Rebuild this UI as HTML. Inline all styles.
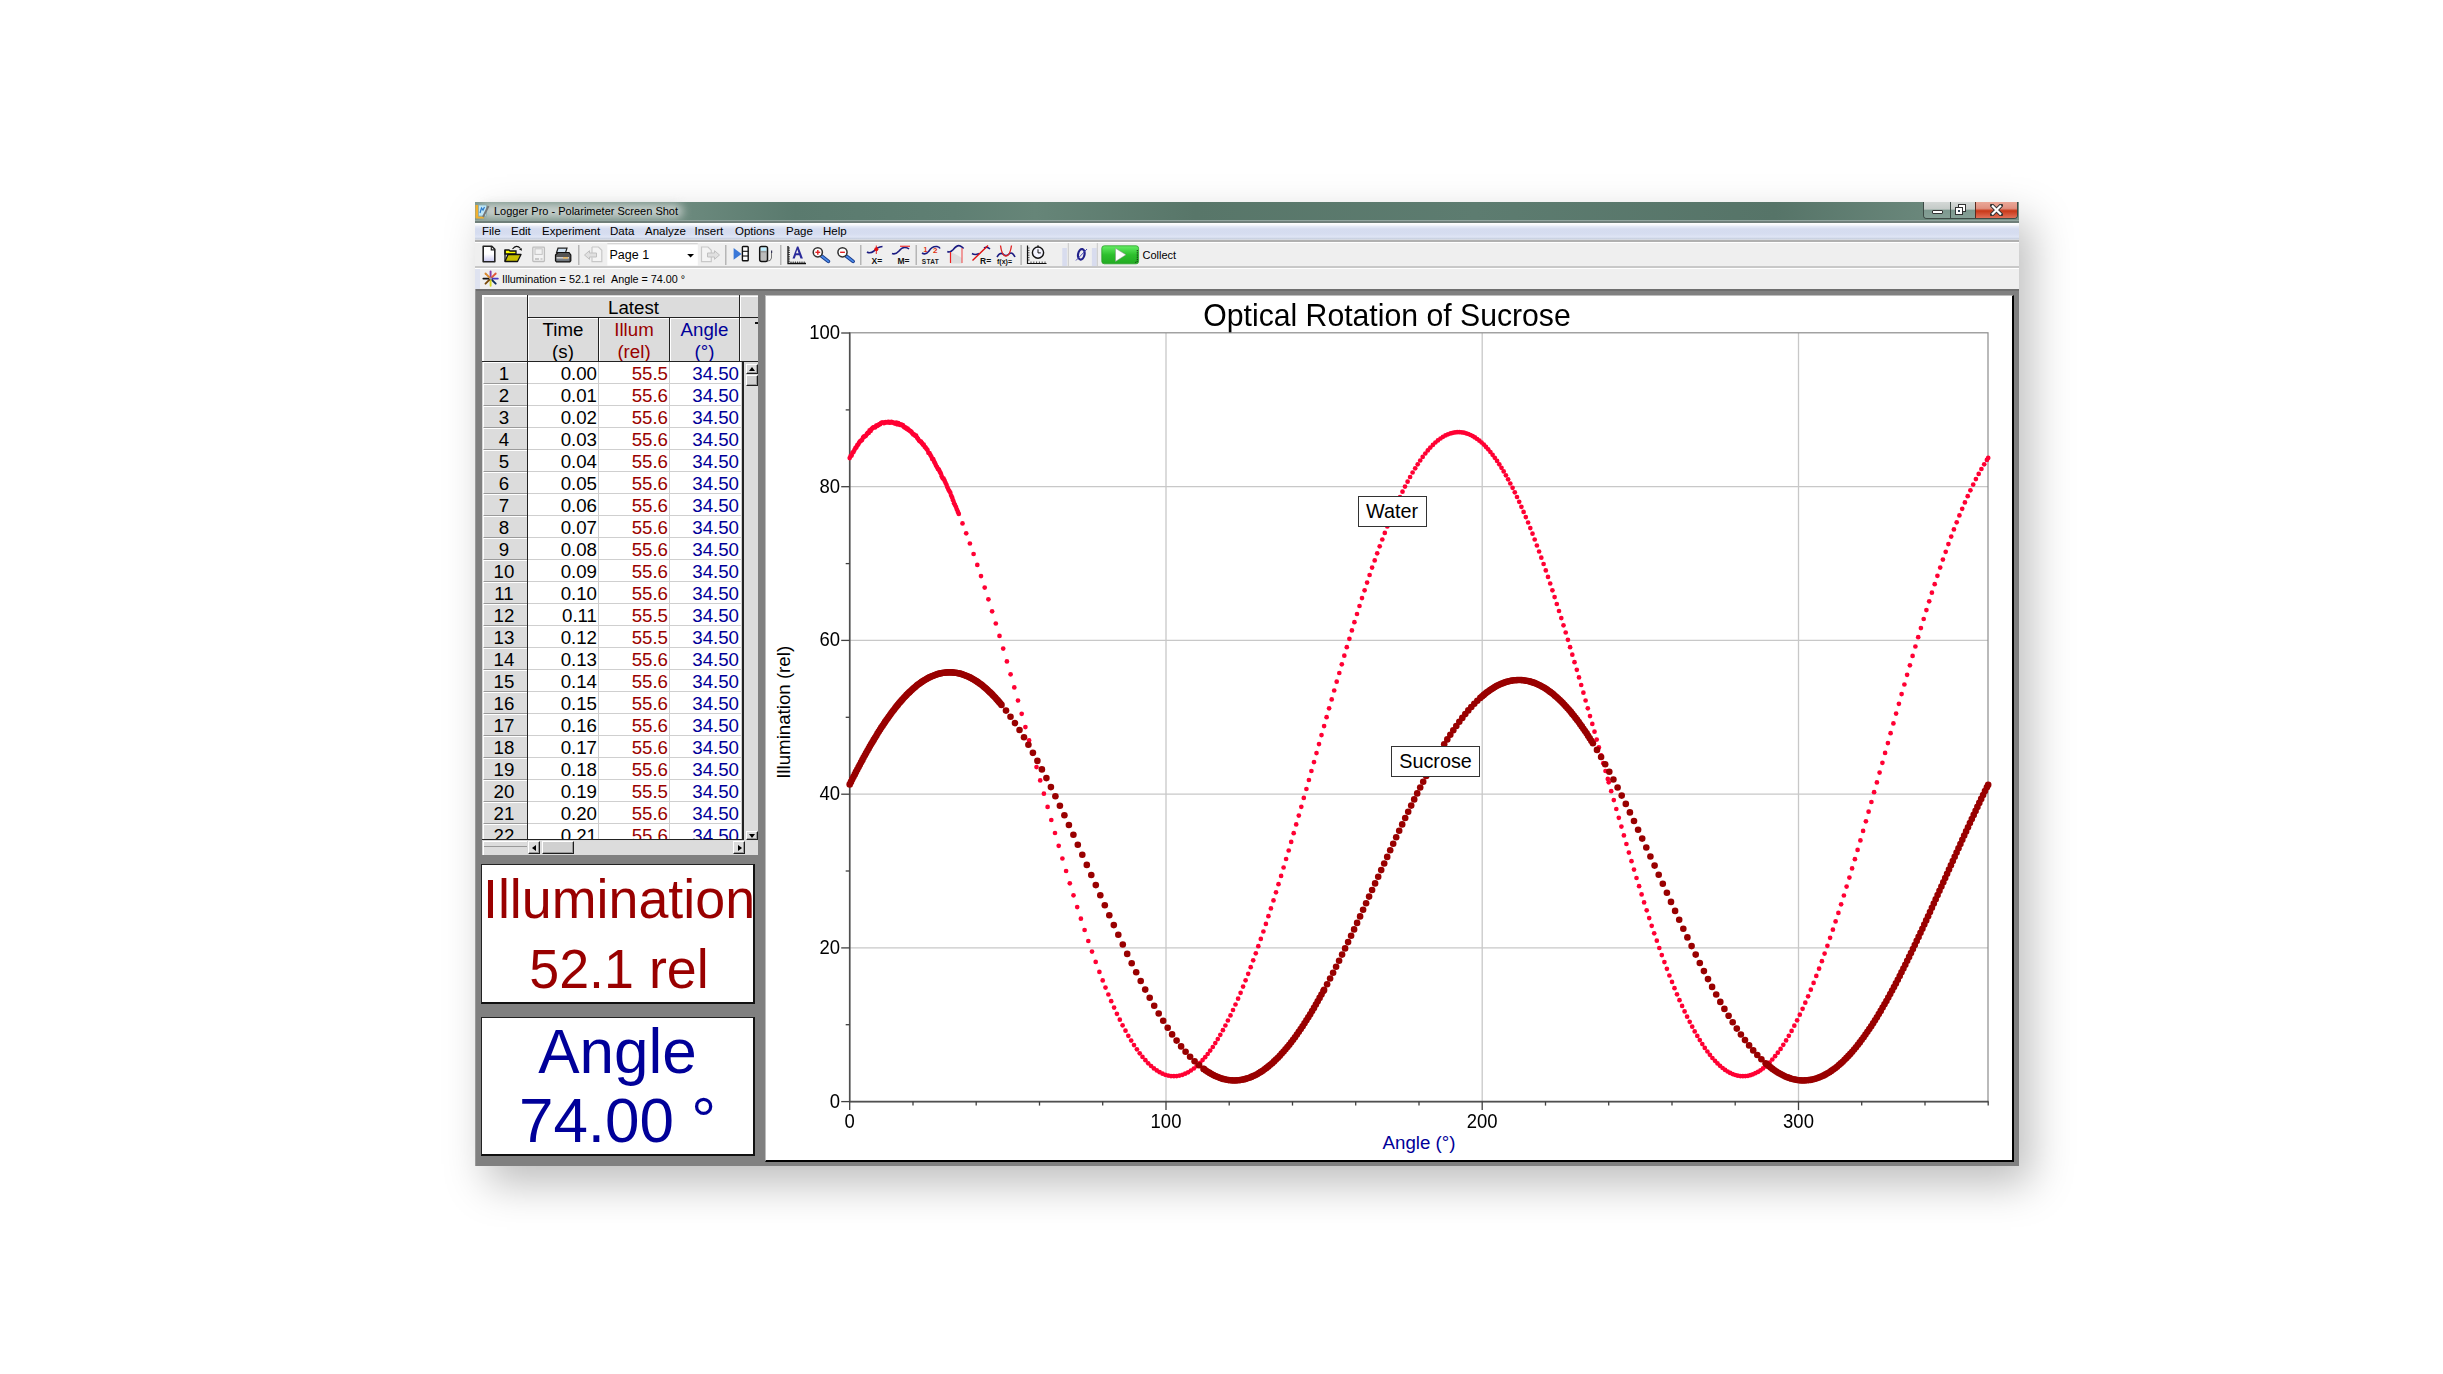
<!DOCTYPE html>
<html><head><meta charset="utf-8"><title>Logger Pro - Polarimeter Screen Shot</title>
<style>
html,body{margin:0;padding:0}
body{width:2443px;height:1374px;position:relative;overflow:hidden;background:#ffffff;font-family:"Liberation Sans",sans-serif;color:#000}
.a{position:absolute}
.t{position:absolute;white-space:nowrap;line-height:1}
.hc{position:absolute;background:#dcdcdc;border-top:1px solid #fff;border-left:1px solid #fff;box-sizing:border-box}
.btn{position:absolute;background:#dcdcdc;border:1px solid #1e1e1e;border-top-color:#fff;border-left-color:#fff;box-sizing:border-box;box-shadow:inset -1px -1px 0 #9a9a9a}
</style></head><body>

<div class="a" style="left:475px;top:202px;width:1544px;height:964px;box-shadow:12px 18px 40px 0 rgba(0,0,0,0.26)"></div>
<div class="a" style="left:475px;top:202px;width:1544px;height:964px;background:#808080"></div>
<div class="a" style="left:475px;top:202px;width:1544px;height:18px;background:linear-gradient(90deg,#7d968c 0px,#6a887c 220px,#5a7a6e 320px,#5f7f73 480px,#668578 560px,#587669 720px,#5d7c70 1000px,#567468 1300px,#6a877b 1450px,#7a948a 1544px)"></div>
<div class="a" style="left:480px;top:204px;width:203px;height:14px;background:#d8dcda;border-radius:7px;filter:blur(5px);opacity:0.85"></div>
<div class="a" style="left:475px;top:220px;width:1544px;height:1px;background:#93a6a0"></div>
<div class="a" style="left:475px;top:221px;width:1544px;height:2px;background:#6f7f7a"></div>
<div class="t" style="left:494px;top:206px;font-size:11px;color:#000">Logger Pro - Polarimeter Screen Shot</div>
<div class="a" style="left:1923px;top:202px;width:95px;height:17px;border:1px solid #3d4a45;border-top:none;border-radius:0 0 4px 4px;box-sizing:border-box;overflow:hidden"><div class="a" style="left:0;top:0;width:26px;height:16px;background:linear-gradient(#d4d8d6 0,#c4cac7 45%,#7d998f 50%,#86a096 100%)"></div><div class="a" style="left:26px;top:0;width:1px;height:16px;background:#3d4a45"></div><div class="a" style="left:27px;top:0;width:24px;height:16px;background:linear-gradient(#d4d8d6 0,#c4cac7 45%,#7d998f 50%,#86a096 100%)"></div><div class="a" style="left:51px;top:0;width:1px;height:16px;background:#5a2a20"></div><div class="a" style="left:52px;top:0;width:43px;height:16px;background:linear-gradient(#eaa898 0,#e09080 40%,#c83818 55%,#e07058 100%)"></div></div>
<div class="a" style="left:1931.5px;top:210px;width:11px;height:4px;background:#fff;border:1px solid #333;border-radius:1px;box-sizing:border-box"></div>
<div class="a" style="left:1958px;top:204px;width:8px;height:8px;background:#fff;border:1px solid #333;box-sizing:border-box"></div>
<div class="a" style="left:1955px;top:207px;width:8px;height:8px;background:#fff;border:1px solid #333;box-sizing:border-box"><div class="a" style="left:2px;top:2px;width:2px;height:2px;background:#345"></div></div>
<svg class="a" style="left:1990px;top:204px" width="13" height="12"><path d="M2,1.5 L11,10.5 M11,1.5 L2,10.5" stroke="#333" stroke-width="4" stroke-linecap="round"/><path d="M2,1.5 L11,10.5 M11,1.5 L2,10.5" stroke="#fff" stroke-width="2.2"/></svg>
<div class="a" style="left:475px;top:223px;width:1544px;height:18px;background:linear-gradient(#ffffff 0px,#f6f7fb 2px,#e4e9f6 3.5px,#d5dcef 6px,#d6ddf0 11px,#dfe5f5 14px,#c4ccdc 16px,#e8e8e8 17px)"></div>
<div class="a" style="left:475px;top:240px;width:1544px;height:2px;background:#b0b0b0"></div>
<div class="t" style="left:482px;top:226px;font-size:11.5px">File</div>
<div class="t" style="left:511px;top:226px;font-size:11.5px">Edit</div>
<div class="t" style="left:542px;top:226px;font-size:11.5px">Experiment</div>
<div class="t" style="left:610px;top:226px;font-size:11.5px">Data</div>
<div class="t" style="left:645px;top:226px;font-size:11.5px">Analyze</div>
<div class="t" style="left:694.5px;top:226px;font-size:11.5px">Insert</div>
<div class="t" style="left:735px;top:226px;font-size:11.5px">Options</div>
<div class="t" style="left:786px;top:226px;font-size:11.5px">Page</div>
<div class="t" style="left:823px;top:226px;font-size:11.5px">Help</div>
<div class="a" style="left:475px;top:242px;width:1544px;height:24px;background:#efefef;border-top:1px solid #fff;box-sizing:border-box"></div>
<div class="a" style="left:475px;top:266px;width:1544px;height:2px;background:#c8c8c8"></div>
<div class="a" style="left:475px;top:268px;width:1544px;height:21px;background:#efefef;border-top:1px solid #fff;box-sizing:border-box"></div>
<div class="a" style="left:475px;top:269px;width:5px;height:20px;background:#dfe3f0"></div>
<div class="t" style="left:502px;top:273.5px;font-size:10.8px">Illumination = 52.1 rel &nbsp;Angle = 74.00 °</div>
<svg class="a" style="left:0;top:0;overflow:visible" width="2443" height="300" viewBox="0 0 2443 300"><defs>
<linearGradient id="docg" x1="0" y1="0" x2="0" y2="1"><stop offset="0" stop-color="#fff"/><stop offset="0.5" stop-color="#fff"/><stop offset="1" stop-color="#c8c8f0"/></linearGradient>
<linearGradient id="grn" x1="0" y1="0" x2="0" y2="1"><stop offset="0" stop-color="#66ee66"/><stop offset="0.5" stop-color="#2ec02e"/><stop offset="1" stop-color="#22aa22"/></linearGradient>
<linearGradient id="lens" x1="0" y1="0" x2="0" y2="1"><stop offset="0" stop-color="#3a7adf"/><stop offset="1" stop-color="#1a4aa0"/></linearGradient>
</defs><rect x="475.5" y="205" width="3" height="13" fill="#f0b030"/><rect x="476" y="216.5" width="8" height="2" fill="#f0b030"/><rect x="478.5" y="205" width="8" height="11" fill="#bfe6f6" stroke="#8aa" stroke-width="0.8"/><polyline points="480,213 481.5,208 483,210 484.5,207" fill="none" stroke="#2a78c8" stroke-width="1.2"/><line x1="488.5" y1="206" x2="483" y2="217" stroke="#777" stroke-width="2"/><path d="M483.2,246.3 h8.6 l3,3 v12.4 h-11.6 z" fill="url(#docg)" stroke="#222" stroke-width="1.6" stroke-linejoin="round"/><path d="M491.3,246.5 v3.4 h3.4" fill="none" stroke="#222" stroke-width="1.2"/><path d="M505,250 h4 l1,1 h6 v3 h-11 z" fill="#ffff00" stroke="#111" stroke-width="1.3"/><path d="M505,261.5 l3,-7 h13 l-3.5,7 z" fill="#c8c000" stroke="#111" stroke-width="1.3" stroke-linejoin="round"/><path d="M505,250 v11.5" stroke="#111" stroke-width="1.3"/><path d="M512.5,249 q4,-5 8,-0.5" fill="none" stroke="#111" stroke-width="1.1"/><path d="M519,249.5 l2.5,-1.5 l0.5,2.8 z" fill="#111"/><rect x="532.8" y="247.2" width="11.6" height="14.3" rx="0.8" fill="#f2f2f2" stroke="#bdbdbd" stroke-width="1.3"/><rect x="535" y="248.8" width="7.2" height="5.6" fill="#f2f2f2" stroke="#c4c4c4" stroke-width="1"/><rect x="535" y="258" width="4" height="2" fill="#c8c8c8"/><rect x="540.5" y="258" width="2" height="2" fill="#d0d0d0"/><path d="M558,248.2 h9 l-1.5,4.5 h-9 z" fill="#cfe0f0" stroke="#222" stroke-width="1.2"/><path d="M555.5,255 l2.5,-2.5 h11 l1.8,2.5 v5.8 l-1,1 h-13.3 l-1,-1 z" fill="#555" stroke="#111" stroke-width="1.2"/><rect x="556.5" y="257.3" width="12.5" height="1.2" fill="#fff"/><rect x="563" y="257.3" width="5" height="1.2" fill="#f0b040"/><rect x="556.5" y="259.5" width="12.5" height="0.9" fill="#9ab"/><line x1="578.8" y1="245" x2="578.8" y2="265" stroke="#a8a8a8" stroke-width="1.2"/><line x1="725.8" y1="245" x2="725.8" y2="265" stroke="#a8a8a8" stroke-width="1.2"/><line x1="780.8" y1="245" x2="780.8" y2="265" stroke="#a8a8a8" stroke-width="1.2"/><line x1="860.8" y1="245" x2="860.8" y2="265" stroke="#a8a8a8" stroke-width="1.2"/><line x1="916.2" y1="245" x2="916.2" y2="265" stroke="#a8a8a8" stroke-width="1.2"/><line x1="1021.1" y1="245" x2="1021.1" y2="265" stroke="#a8a8a8" stroke-width="1.2"/><path d="M592,247 h6.5 l3.3,3.3 v11.3 h-9.8 v-4 M592,254 v-7" fill="#f4f4f4" stroke="#c8c8c8" stroke-width="1.2"/><path d="M584.5,255 l5,-4.3 v2.3 h7 v4 h-7 v2.3 z" fill="#e0e0e0" stroke="#c0c0c0" stroke-width="1"/><rect x="607.3" y="243.5" width="90.5" height="22" fill="#fff"/><line x1="607.3" y1="243.8" x2="697.8" y2="243.8" stroke="#c8c8c8" stroke-width="1"/><path d="M687.2,254 h6.8 l-3.4,3.6 z" fill="#000"/><path d="M701.5,247 h6.5 l3.3,3.3 v11.3 h-9.8 z" fill="#f4f4f4" stroke="#c8c8c8" stroke-width="1.2"/><path d="M719.5,255 l-5,-4.3 v2.3 h-7 v4 h7 v2.3 z" fill="#e0e0e0" stroke="#c0c0c0" stroke-width="1"/><path d="M733.6,248 l8,5.9 l-8,5.9 z" fill="#3a78d8"/><rect x="742.4" y="246.5" width="5.8" height="14.2" rx="0.8" fill="#fff" stroke="#111" stroke-width="1.4"/><line x1="742.4" y1="251.3" x2="748.2" y2="251.3" stroke="#111" stroke-width="1.1"/><line x1="742.4" y1="256" x2="748.2" y2="256" stroke="#111" stroke-width="1.1"/><rect x="759.6" y="246.4" width="8" height="15.2" rx="2" fill="#999" stroke="#111" stroke-width="1.3"/><rect x="760.8" y="247.6" width="5.6" height="3.2" fill="#bfefff"/><rect x="761" y="252.5" width="5" height="7.5" fill="#bbb"/><path d="M767,261 q4,0.5 4.5,-3 v-5" fill="none" stroke="#555" stroke-width="0.8"/><rect x="771" y="250.5" width="1.2" height="2.5" fill="#335"/><path d="M788,246 v17.5 h18" fill="none" stroke="#111" stroke-width="1.3"/><line x1="788" y1="248.0" x2="790" y2="248.0" stroke="#111" stroke-width="0.8"/><line x1="791.0" y1="261.5" x2="791.0" y2="263.5" stroke="#111" stroke-width="0.8"/><line x1="788" y1="250.2" x2="790" y2="250.2" stroke="#111" stroke-width="0.8"/><line x1="793.2" y1="261.5" x2="793.2" y2="263.5" stroke="#111" stroke-width="0.8"/><line x1="788" y1="252.4" x2="790" y2="252.4" stroke="#111" stroke-width="0.8"/><line x1="795.4" y1="261.5" x2="795.4" y2="263.5" stroke="#111" stroke-width="0.8"/><line x1="788" y1="254.6" x2="790" y2="254.6" stroke="#111" stroke-width="0.8"/><line x1="797.6" y1="261.5" x2="797.6" y2="263.5" stroke="#111" stroke-width="0.8"/><line x1="788" y1="256.8" x2="790" y2="256.8" stroke="#111" stroke-width="0.8"/><line x1="799.8" y1="261.5" x2="799.8" y2="263.5" stroke="#111" stroke-width="0.8"/><line x1="788" y1="259.0" x2="790" y2="259.0" stroke="#111" stroke-width="0.8"/><line x1="802.0" y1="261.5" x2="802.0" y2="263.5" stroke="#111" stroke-width="0.8"/><line x1="788" y1="261.2" x2="790" y2="261.2" stroke="#111" stroke-width="0.8"/><line x1="804.2" y1="261.5" x2="804.2" y2="263.5" stroke="#111" stroke-width="0.8"/><path d="M792.5,258.5 l4.5,-12 h1.4 l4.5,12 h-2.4 l-1.2,-3.2 h-3.4 l-1.1,3.2 z M796,253.3 h2.6 l-1.3,-3.8 z" fill="#2a2a9a" fill-rule="evenodd"/><line x1="821.5" y1="256" x2="828.4" y2="261.4" stroke="#1a3a8a" stroke-width="3.6" stroke-linecap="round"/><line x1="821.5" y1="256" x2="828.4" y2="261.4" stroke="#4a8ae8" stroke-width="1.8" stroke-linecap="round"/><circle cx="817.8" cy="252.3" r="4.6" fill="#fff" stroke="#333" stroke-width="1.5"/><line x1="815.4" y1="252.3" x2="820.2" y2="252.3" stroke="#e02020" stroke-width="1.4"/><line x1="817.8" y1="249.9" x2="817.8" y2="254.7" stroke="#e02020" stroke-width="1.4"/><line x1="846.2" y1="256" x2="853.1" y2="261.4" stroke="#1a3a8a" stroke-width="3.6" stroke-linecap="round"/><line x1="846.2" y1="256" x2="853.1" y2="261.4" stroke="#4a8ae8" stroke-width="1.8" stroke-linecap="round"/><circle cx="842.5" cy="252.3" r="4.6" fill="#fff" stroke="#333" stroke-width="1.5"/><line x1="840.1" y1="252.3" x2="844.9" y2="252.3" stroke="#e02020" stroke-width="1.4"/><path d="M867,252 q3,2 7,-1 q3,-4 8.5,-4.5" fill="none" stroke="#1a1a80" stroke-width="1.6"/><circle cx="876.3" cy="249.2" r="2" fill="#e01010"/><line x1="876.3" y1="245.5" x2="876.3" y2="254" stroke="#e01010" stroke-width="0.9"/><text x="871.5" y="263.5" font-family="Liberation Sans" font-size="8.5" font-weight="bold" fill="#111">X=</text><path d="M892,253.5 q3.5,1.5 7,-2.5 q3,-4 6,-3.5 q2.5,0 4,1.5" fill="none" stroke="#1a1a80" stroke-width="1.6"/><line x1="900" y1="246.3" x2="910" y2="246.3" stroke="#ee4444" stroke-width="1.3"/><text x="897.5" y="263.5" font-family="Liberation Sans" font-size="8.5" font-weight="bold" fill="#111">M=</text><path d="M922,253 q3.5,2.5 7,-2 q3,-5 8,-4.5 q2.5,0.5 3,2" fill="none" stroke="#1a1a80" stroke-width="1.6"/><text x="923.5" y="252" font-family="Liberation Sans" font-size="7" font-weight="bold" fill="#e03010">1</text><text x="933" y="253" font-family="Liberation Sans" font-size="8" font-weight="bold" fill="#e03010">2</text><text x="921.8" y="263.5" font-family="Liberation Sans" font-size="6.5" font-weight="bold" fill="#222" textLength="17">STAT</text><path d="M950.5,252 q5,2 11.5,6 v5.5 h-11.5 z" fill="#ddd"/><path d="M947.3,251.5 q3,1.5 6,-2 q4,-5 7,-3.5 q2,1 3.3,2.5" fill="none" stroke="#1a1a80" stroke-width="1.6"/><line x1="950.5" y1="252" x2="950.5" y2="263" stroke="#ee2020" stroke-width="1.2"/><line x1="962" y1="248" x2="962" y2="263" stroke="#ee6060" stroke-width="1.2"/><path d="M972,253.5 q3,2 7,0 M984,248 q3,-2 6,1" fill="none" stroke="#1a1a80" stroke-width="1.6"/><line x1="972.5" y1="260.5" x2="988" y2="245.5" stroke="#e01010" stroke-width="1.4"/><text x="980" y="264" font-family="Liberation Sans" font-size="8.5" font-weight="bold" fill="#111">R=</text><path d="M997,257 q3,-5 6,-3 q3,3 6,0 q3,-3 6,3" fill="none" stroke="#1a1a80" stroke-width="1.6"/><path d="M1000.5,245.5 q1.5,11 5.5,10.5 q4,0 5.5,-10.5" fill="none" stroke="#e02020" stroke-width="1.3"/><text x="997" y="264" font-family="Liberation Sans" font-size="7" font-weight="bold" fill="#111">f(x)=</text><path d="M1027.5,245.5 v18 h19" fill="none" stroke="#111" stroke-width="1.2"/><line x1="1027.5" y1="248.0" x2="1029.5" y2="248.0" stroke="#111" stroke-width="0.7"/><line x1="1031.0" y1="261.5" x2="1031.0" y2="263.5" stroke="#111" stroke-width="0.7"/><line x1="1027.5" y1="250.4" x2="1029.5" y2="250.4" stroke="#111" stroke-width="0.7"/><line x1="1033.8" y1="261.5" x2="1033.8" y2="263.5" stroke="#111" stroke-width="0.7"/><line x1="1027.5" y1="252.8" x2="1029.5" y2="252.8" stroke="#111" stroke-width="0.7"/><line x1="1036.6" y1="261.5" x2="1036.6" y2="263.5" stroke="#111" stroke-width="0.7"/><line x1="1027.5" y1="255.2" x2="1029.5" y2="255.2" stroke="#111" stroke-width="0.7"/><line x1="1039.4" y1="261.5" x2="1039.4" y2="263.5" stroke="#111" stroke-width="0.7"/><line x1="1027.5" y1="257.6" x2="1029.5" y2="257.6" stroke="#111" stroke-width="0.7"/><line x1="1042.2" y1="261.5" x2="1042.2" y2="263.5" stroke="#111" stroke-width="0.7"/><line x1="1027.5" y1="260.0" x2="1029.5" y2="260.0" stroke="#111" stroke-width="0.7"/><line x1="1045.0" y1="261.5" x2="1045.0" y2="263.5" stroke="#111" stroke-width="0.7"/><circle cx="1038" cy="252.6" r="5.6" fill="#f4f4ff" stroke="#111" stroke-width="1.4"/><path d="M1038,249.3 v3.6 h2.8" fill="none" stroke="#111" stroke-width="1"/><line x1="1038" y1="245.3" x2="1038" y2="247" stroke="#111" stroke-width="1.2"/><rect x="1062.3" y="248" width="4.6" height="18" fill="#d8dcee"/><line x1="1068.3" y1="243" x2="1068.3" y2="266" stroke="#c8c8c8" stroke-width="1"/><rect x="1091.9" y="248" width="4.8" height="18" fill="#d8dcee"/><line x1="1097.3" y1="243" x2="1097.3" y2="266" stroke="#c8c8c8" stroke-width="1"/><ellipse cx="1081.3" cy="254.3" rx="3.2" ry="5.3" transform="rotate(12 1081.3 254.3)" fill="none" stroke="#22228a" stroke-width="2.2"/><line x1="1076" y1="260.5" x2="1087" y2="249" stroke="#3a3ab0" stroke-width="0.9"/><rect x="1101.8" y="245.8" width="36.8" height="18" rx="2.5" fill="url(#grn)" stroke="#28a028" stroke-width="0.8"/><path d="M1115.5,248.3 l10.5,6.5 l-10.5,6.6 z" fill="#fff" stroke="#888" stroke-width="0.5"/><path d="M1137.3,250 v11.5 l-2,1" fill="none" stroke="#111" stroke-width="0.9" stroke-dasharray="1,0.8"/><line x1="490.6" y1="278.6" x2="490.60" y2="271.40" stroke="#8a3aa8" stroke-width="1.9" stroke-linecap="round"/><line x1="490.6" y1="278.6" x2="495.69" y2="273.51" stroke="#e25a3a" stroke-width="1.9" stroke-linecap="round"/><line x1="490.6" y1="278.6" x2="497.80" y2="278.60" stroke="#4a3ac0" stroke-width="1.9" stroke-linecap="round"/><line x1="490.6" y1="278.6" x2="495.69" y2="283.69" stroke="#0a2a5a" stroke-width="1.9" stroke-linecap="round"/><line x1="490.6" y1="278.6" x2="490.60" y2="285.80" stroke="#d8d820" stroke-width="1.9" stroke-linecap="round"/><line x1="490.6" y1="278.6" x2="485.51" y2="283.69" stroke="#7a4a08" stroke-width="1.9" stroke-linecap="round"/><line x1="490.6" y1="278.6" x2="483.40" y2="278.60" stroke="#111111" stroke-width="1.9" stroke-linecap="round"/><line x1="490.6" y1="278.6" x2="485.51" y2="273.51" stroke="#d88a30" stroke-width="1.9" stroke-linecap="round"/><circle cx="490.6" cy="278.6" r="1.2" fill="#9ac"/></svg>
<div class="t" style="left:609.5px;top:249px;font-size:12.5px">Page 1</div>
<div class="t" style="left:1142.5px;top:250px;font-size:11px">Collect</div>
<div class="a" style="left:475px;top:289px;width:1544px;height:877px;background:#808080"></div>
<div class="a" style="left:475px;top:289px;width:1544px;height:2px;background:#6e6e6e"></div>
<div class="a" style="left:475px;top:289px;width:1px;height:877px;background:#9a9a9a"></div>
<div class="a" style="left:482px;top:295px;width:276px;height:560px;background:#d8d8d8"></div>
<div class="a" style="left:527px;top:362px;width:215px;height:477px;background:#fff"></div>
<div class="hc" style="left:482px;top:295px;width:45px;height:66px;border-width:2px 0 0 2px"></div>
<div class="hc" style="left:528px;top:296px;width:211px;height:21px"></div>
<div class="t" style="left:528px;top:298.5px;width:211px;text-align:center;font-size:18.7px">Latest</div>
<div class="hc" style="left:528px;top:318px;width:70px;height:43px"></div>
<div class="t" style="left:528px;top:318.5px;width:70px;text-align:center;font-size:18.7px;line-height:22px;color:#000">Time<br>(s)</div>
<div class="hc" style="left:599px;top:318px;width:70px;height:43px"></div>
<div class="t" style="left:599px;top:318.5px;width:70px;text-align:center;font-size:18.7px;line-height:22px;color:#990000">Illum<br>(rel)</div>
<div class="hc" style="left:670px;top:318px;width:69px;height:43px"></div>
<div class="t" style="left:670px;top:318.5px;width:69px;text-align:center;font-size:18.7px;line-height:22px;color:#000099">Angle<br>(°)</div>
<div class="hc" style="left:740px;top:296px;width:18px;height:65px"></div>
<div class="a" style="left:755px;top:322px;width:3px;height:1.5px;background:#111"></div>
<div class="a" style="left:526.5px;top:295px;width:1.5px;height:67px;background:#222"></div>
<div class="a" style="left:527px;top:317px;width:231px;height:1.3px;background:#222"></div>
<div class="a" style="left:598px;top:318px;width:1.3px;height:44px;background:#222"></div>
<div class="a" style="left:669px;top:318px;width:1.3px;height:44px;background:#222"></div>
<div class="a" style="left:739.2px;top:295px;width:1.3px;height:67px;background:#222"></div>
<div class="a" style="left:482px;top:360.6px;width:276px;height:1.8px;background:#222"></div>
<div class="a" style="left:483px;top:362px;width:44px;height:22px;background:#dcdcdc;border-top:1px solid #fff;border-left:1px solid #fff;border-bottom:1px solid #9a9a9a;box-sizing:border-box"></div>
<div class="t" style="left:482px;top:365px;width:44px;text-align:center;font-size:18.7px">1</div>
<div class="a" style="left:527px;top:383px;width:215px;height:1px;background:#cfcfcf"></div>
<div class="t" style="left:527px;top:365.0px;width:70px;text-align:right;font-size:18.7px">0.00</div>
<div class="t" style="left:598px;top:365.0px;width:70px;text-align:right;font-size:18.7px;color:#990000">55.5</div>
<div class="t" style="left:669px;top:365.0px;width:70px;text-align:right;font-size:18.7px;color:#000099">34.50</div>
<div class="a" style="left:483px;top:384px;width:44px;height:22px;background:#dcdcdc;border-top:1px solid #fff;border-left:1px solid #fff;border-bottom:1px solid #9a9a9a;box-sizing:border-box"></div>
<div class="t" style="left:482px;top:387px;width:44px;text-align:center;font-size:18.7px">2</div>
<div class="a" style="left:527px;top:405px;width:215px;height:1px;background:#cfcfcf"></div>
<div class="t" style="left:527px;top:387.0px;width:70px;text-align:right;font-size:18.7px">0.01</div>
<div class="t" style="left:598px;top:387.0px;width:70px;text-align:right;font-size:18.7px;color:#990000">55.6</div>
<div class="t" style="left:669px;top:387.0px;width:70px;text-align:right;font-size:18.7px;color:#000099">34.50</div>
<div class="a" style="left:483px;top:406px;width:44px;height:22px;background:#dcdcdc;border-top:1px solid #fff;border-left:1px solid #fff;border-bottom:1px solid #9a9a9a;box-sizing:border-box"></div>
<div class="t" style="left:482px;top:409px;width:44px;text-align:center;font-size:18.7px">3</div>
<div class="a" style="left:527px;top:427px;width:215px;height:1px;background:#cfcfcf"></div>
<div class="t" style="left:527px;top:409.0px;width:70px;text-align:right;font-size:18.7px">0.02</div>
<div class="t" style="left:598px;top:409.0px;width:70px;text-align:right;font-size:18.7px;color:#990000">55.6</div>
<div class="t" style="left:669px;top:409.0px;width:70px;text-align:right;font-size:18.7px;color:#000099">34.50</div>
<div class="a" style="left:483px;top:428px;width:44px;height:22px;background:#dcdcdc;border-top:1px solid #fff;border-left:1px solid #fff;border-bottom:1px solid #9a9a9a;box-sizing:border-box"></div>
<div class="t" style="left:482px;top:431px;width:44px;text-align:center;font-size:18.7px">4</div>
<div class="a" style="left:527px;top:449px;width:215px;height:1px;background:#cfcfcf"></div>
<div class="t" style="left:527px;top:431.0px;width:70px;text-align:right;font-size:18.7px">0.03</div>
<div class="t" style="left:598px;top:431.0px;width:70px;text-align:right;font-size:18.7px;color:#990000">55.6</div>
<div class="t" style="left:669px;top:431.0px;width:70px;text-align:right;font-size:18.7px;color:#000099">34.50</div>
<div class="a" style="left:483px;top:450px;width:44px;height:22px;background:#dcdcdc;border-top:1px solid #fff;border-left:1px solid #fff;border-bottom:1px solid #9a9a9a;box-sizing:border-box"></div>
<div class="t" style="left:482px;top:453px;width:44px;text-align:center;font-size:18.7px">5</div>
<div class="a" style="left:527px;top:471px;width:215px;height:1px;background:#cfcfcf"></div>
<div class="t" style="left:527px;top:453.0px;width:70px;text-align:right;font-size:18.7px">0.04</div>
<div class="t" style="left:598px;top:453.0px;width:70px;text-align:right;font-size:18.7px;color:#990000">55.6</div>
<div class="t" style="left:669px;top:453.0px;width:70px;text-align:right;font-size:18.7px;color:#000099">34.50</div>
<div class="a" style="left:483px;top:472px;width:44px;height:22px;background:#dcdcdc;border-top:1px solid #fff;border-left:1px solid #fff;border-bottom:1px solid #9a9a9a;box-sizing:border-box"></div>
<div class="t" style="left:482px;top:475px;width:44px;text-align:center;font-size:18.7px">6</div>
<div class="a" style="left:527px;top:493px;width:215px;height:1px;background:#cfcfcf"></div>
<div class="t" style="left:527px;top:475.0px;width:70px;text-align:right;font-size:18.7px">0.05</div>
<div class="t" style="left:598px;top:475.0px;width:70px;text-align:right;font-size:18.7px;color:#990000">55.6</div>
<div class="t" style="left:669px;top:475.0px;width:70px;text-align:right;font-size:18.7px;color:#000099">34.50</div>
<div class="a" style="left:483px;top:494px;width:44px;height:22px;background:#dcdcdc;border-top:1px solid #fff;border-left:1px solid #fff;border-bottom:1px solid #9a9a9a;box-sizing:border-box"></div>
<div class="t" style="left:482px;top:497px;width:44px;text-align:center;font-size:18.7px">7</div>
<div class="a" style="left:527px;top:515px;width:215px;height:1px;background:#cfcfcf"></div>
<div class="t" style="left:527px;top:497.0px;width:70px;text-align:right;font-size:18.7px">0.06</div>
<div class="t" style="left:598px;top:497.0px;width:70px;text-align:right;font-size:18.7px;color:#990000">55.6</div>
<div class="t" style="left:669px;top:497.0px;width:70px;text-align:right;font-size:18.7px;color:#000099">34.50</div>
<div class="a" style="left:483px;top:516px;width:44px;height:22px;background:#dcdcdc;border-top:1px solid #fff;border-left:1px solid #fff;border-bottom:1px solid #9a9a9a;box-sizing:border-box"></div>
<div class="t" style="left:482px;top:519px;width:44px;text-align:center;font-size:18.7px">8</div>
<div class="a" style="left:527px;top:537px;width:215px;height:1px;background:#cfcfcf"></div>
<div class="t" style="left:527px;top:519.0px;width:70px;text-align:right;font-size:18.7px">0.07</div>
<div class="t" style="left:598px;top:519.0px;width:70px;text-align:right;font-size:18.7px;color:#990000">55.6</div>
<div class="t" style="left:669px;top:519.0px;width:70px;text-align:right;font-size:18.7px;color:#000099">34.50</div>
<div class="a" style="left:483px;top:538px;width:44px;height:22px;background:#dcdcdc;border-top:1px solid #fff;border-left:1px solid #fff;border-bottom:1px solid #9a9a9a;box-sizing:border-box"></div>
<div class="t" style="left:482px;top:541px;width:44px;text-align:center;font-size:18.7px">9</div>
<div class="a" style="left:527px;top:559px;width:215px;height:1px;background:#cfcfcf"></div>
<div class="t" style="left:527px;top:541.0px;width:70px;text-align:right;font-size:18.7px">0.08</div>
<div class="t" style="left:598px;top:541.0px;width:70px;text-align:right;font-size:18.7px;color:#990000">55.6</div>
<div class="t" style="left:669px;top:541.0px;width:70px;text-align:right;font-size:18.7px;color:#000099">34.50</div>
<div class="a" style="left:483px;top:560px;width:44px;height:22px;background:#dcdcdc;border-top:1px solid #fff;border-left:1px solid #fff;border-bottom:1px solid #9a9a9a;box-sizing:border-box"></div>
<div class="t" style="left:482px;top:563px;width:44px;text-align:center;font-size:18.7px">10</div>
<div class="a" style="left:527px;top:581px;width:215px;height:1px;background:#cfcfcf"></div>
<div class="t" style="left:527px;top:563.0px;width:70px;text-align:right;font-size:18.7px">0.09</div>
<div class="t" style="left:598px;top:563.0px;width:70px;text-align:right;font-size:18.7px;color:#990000">55.6</div>
<div class="t" style="left:669px;top:563.0px;width:70px;text-align:right;font-size:18.7px;color:#000099">34.50</div>
<div class="a" style="left:483px;top:582px;width:44px;height:22px;background:#dcdcdc;border-top:1px solid #fff;border-left:1px solid #fff;border-bottom:1px solid #9a9a9a;box-sizing:border-box"></div>
<div class="t" style="left:482px;top:585px;width:44px;text-align:center;font-size:18.7px">11</div>
<div class="a" style="left:527px;top:603px;width:215px;height:1px;background:#cfcfcf"></div>
<div class="t" style="left:527px;top:585.0px;width:70px;text-align:right;font-size:18.7px">0.10</div>
<div class="t" style="left:598px;top:585.0px;width:70px;text-align:right;font-size:18.7px;color:#990000">55.6</div>
<div class="t" style="left:669px;top:585.0px;width:70px;text-align:right;font-size:18.7px;color:#000099">34.50</div>
<div class="a" style="left:483px;top:604px;width:44px;height:22px;background:#dcdcdc;border-top:1px solid #fff;border-left:1px solid #fff;border-bottom:1px solid #9a9a9a;box-sizing:border-box"></div>
<div class="t" style="left:482px;top:607px;width:44px;text-align:center;font-size:18.7px">12</div>
<div class="a" style="left:527px;top:625px;width:215px;height:1px;background:#cfcfcf"></div>
<div class="t" style="left:527px;top:607.0px;width:70px;text-align:right;font-size:18.7px">0.11</div>
<div class="t" style="left:598px;top:607.0px;width:70px;text-align:right;font-size:18.7px;color:#990000">55.5</div>
<div class="t" style="left:669px;top:607.0px;width:70px;text-align:right;font-size:18.7px;color:#000099">34.50</div>
<div class="a" style="left:483px;top:626px;width:44px;height:22px;background:#dcdcdc;border-top:1px solid #fff;border-left:1px solid #fff;border-bottom:1px solid #9a9a9a;box-sizing:border-box"></div>
<div class="t" style="left:482px;top:629px;width:44px;text-align:center;font-size:18.7px">13</div>
<div class="a" style="left:527px;top:647px;width:215px;height:1px;background:#cfcfcf"></div>
<div class="t" style="left:527px;top:629.0px;width:70px;text-align:right;font-size:18.7px">0.12</div>
<div class="t" style="left:598px;top:629.0px;width:70px;text-align:right;font-size:18.7px;color:#990000">55.5</div>
<div class="t" style="left:669px;top:629.0px;width:70px;text-align:right;font-size:18.7px;color:#000099">34.50</div>
<div class="a" style="left:483px;top:648px;width:44px;height:22px;background:#dcdcdc;border-top:1px solid #fff;border-left:1px solid #fff;border-bottom:1px solid #9a9a9a;box-sizing:border-box"></div>
<div class="t" style="left:482px;top:651px;width:44px;text-align:center;font-size:18.7px">14</div>
<div class="a" style="left:527px;top:669px;width:215px;height:1px;background:#cfcfcf"></div>
<div class="t" style="left:527px;top:651.0px;width:70px;text-align:right;font-size:18.7px">0.13</div>
<div class="t" style="left:598px;top:651.0px;width:70px;text-align:right;font-size:18.7px;color:#990000">55.6</div>
<div class="t" style="left:669px;top:651.0px;width:70px;text-align:right;font-size:18.7px;color:#000099">34.50</div>
<div class="a" style="left:483px;top:670px;width:44px;height:22px;background:#dcdcdc;border-top:1px solid #fff;border-left:1px solid #fff;border-bottom:1px solid #9a9a9a;box-sizing:border-box"></div>
<div class="t" style="left:482px;top:673px;width:44px;text-align:center;font-size:18.7px">15</div>
<div class="a" style="left:527px;top:691px;width:215px;height:1px;background:#cfcfcf"></div>
<div class="t" style="left:527px;top:673.0px;width:70px;text-align:right;font-size:18.7px">0.14</div>
<div class="t" style="left:598px;top:673.0px;width:70px;text-align:right;font-size:18.7px;color:#990000">55.6</div>
<div class="t" style="left:669px;top:673.0px;width:70px;text-align:right;font-size:18.7px;color:#000099">34.50</div>
<div class="a" style="left:483px;top:692px;width:44px;height:22px;background:#dcdcdc;border-top:1px solid #fff;border-left:1px solid #fff;border-bottom:1px solid #9a9a9a;box-sizing:border-box"></div>
<div class="t" style="left:482px;top:695px;width:44px;text-align:center;font-size:18.7px">16</div>
<div class="a" style="left:527px;top:713px;width:215px;height:1px;background:#cfcfcf"></div>
<div class="t" style="left:527px;top:695.0px;width:70px;text-align:right;font-size:18.7px">0.15</div>
<div class="t" style="left:598px;top:695.0px;width:70px;text-align:right;font-size:18.7px;color:#990000">55.6</div>
<div class="t" style="left:669px;top:695.0px;width:70px;text-align:right;font-size:18.7px;color:#000099">34.50</div>
<div class="a" style="left:483px;top:714px;width:44px;height:22px;background:#dcdcdc;border-top:1px solid #fff;border-left:1px solid #fff;border-bottom:1px solid #9a9a9a;box-sizing:border-box"></div>
<div class="t" style="left:482px;top:717px;width:44px;text-align:center;font-size:18.7px">17</div>
<div class="a" style="left:527px;top:735px;width:215px;height:1px;background:#cfcfcf"></div>
<div class="t" style="left:527px;top:717.0px;width:70px;text-align:right;font-size:18.7px">0.16</div>
<div class="t" style="left:598px;top:717.0px;width:70px;text-align:right;font-size:18.7px;color:#990000">55.6</div>
<div class="t" style="left:669px;top:717.0px;width:70px;text-align:right;font-size:18.7px;color:#000099">34.50</div>
<div class="a" style="left:483px;top:736px;width:44px;height:22px;background:#dcdcdc;border-top:1px solid #fff;border-left:1px solid #fff;border-bottom:1px solid #9a9a9a;box-sizing:border-box"></div>
<div class="t" style="left:482px;top:739px;width:44px;text-align:center;font-size:18.7px">18</div>
<div class="a" style="left:527px;top:757px;width:215px;height:1px;background:#cfcfcf"></div>
<div class="t" style="left:527px;top:739.0px;width:70px;text-align:right;font-size:18.7px">0.17</div>
<div class="t" style="left:598px;top:739.0px;width:70px;text-align:right;font-size:18.7px;color:#990000">55.6</div>
<div class="t" style="left:669px;top:739.0px;width:70px;text-align:right;font-size:18.7px;color:#000099">34.50</div>
<div class="a" style="left:483px;top:758px;width:44px;height:22px;background:#dcdcdc;border-top:1px solid #fff;border-left:1px solid #fff;border-bottom:1px solid #9a9a9a;box-sizing:border-box"></div>
<div class="t" style="left:482px;top:761px;width:44px;text-align:center;font-size:18.7px">19</div>
<div class="a" style="left:527px;top:779px;width:215px;height:1px;background:#cfcfcf"></div>
<div class="t" style="left:527px;top:761.0px;width:70px;text-align:right;font-size:18.7px">0.18</div>
<div class="t" style="left:598px;top:761.0px;width:70px;text-align:right;font-size:18.7px;color:#990000">55.6</div>
<div class="t" style="left:669px;top:761.0px;width:70px;text-align:right;font-size:18.7px;color:#000099">34.50</div>
<div class="a" style="left:483px;top:780px;width:44px;height:22px;background:#dcdcdc;border-top:1px solid #fff;border-left:1px solid #fff;border-bottom:1px solid #9a9a9a;box-sizing:border-box"></div>
<div class="t" style="left:482px;top:783px;width:44px;text-align:center;font-size:18.7px">20</div>
<div class="a" style="left:527px;top:801px;width:215px;height:1px;background:#cfcfcf"></div>
<div class="t" style="left:527px;top:783.0px;width:70px;text-align:right;font-size:18.7px">0.19</div>
<div class="t" style="left:598px;top:783.0px;width:70px;text-align:right;font-size:18.7px;color:#990000">55.5</div>
<div class="t" style="left:669px;top:783.0px;width:70px;text-align:right;font-size:18.7px;color:#000099">34.50</div>
<div class="a" style="left:483px;top:802px;width:44px;height:22px;background:#dcdcdc;border-top:1px solid #fff;border-left:1px solid #fff;border-bottom:1px solid #9a9a9a;box-sizing:border-box"></div>
<div class="t" style="left:482px;top:805px;width:44px;text-align:center;font-size:18.7px">21</div>
<div class="a" style="left:527px;top:823px;width:215px;height:1px;background:#cfcfcf"></div>
<div class="t" style="left:527px;top:805.0px;width:70px;text-align:right;font-size:18.7px">0.20</div>
<div class="t" style="left:598px;top:805.0px;width:70px;text-align:right;font-size:18.7px;color:#990000">55.6</div>
<div class="t" style="left:669px;top:805.0px;width:70px;text-align:right;font-size:18.7px;color:#000099">34.50</div>
<div class="a" style="left:483px;top:824px;width:44px;height:22px;background:#dcdcdc;border-top:1px solid #fff;border-left:1px solid #fff;border-bottom:1px solid #9a9a9a;box-sizing:border-box"></div>
<div class="t" style="left:482px;top:827px;width:44px;text-align:center;font-size:18.7px">22</div>
<div class="a" style="left:527px;top:845px;width:215px;height:1px;background:#cfcfcf"></div>
<div class="t" style="left:527px;top:827.0px;width:70px;text-align:right;font-size:18.7px">0.21</div>
<div class="t" style="left:598px;top:827.0px;width:70px;text-align:right;font-size:18.7px;color:#990000">55.6</div>
<div class="t" style="left:669px;top:827.0px;width:70px;text-align:right;font-size:18.7px;color:#000099">34.50</div>
<div class="a" style="left:598px;top:362px;width:1px;height:477px;background:#cfcfcf"></div>
<div class="a" style="left:669px;top:362px;width:1px;height:477px;background:#cfcfcf"></div>
<div class="a" style="left:741px;top:362px;width:1px;height:477px;background:#cfcfcf"></div>
<div class="a" style="left:742.3px;top:362px;width:1.5px;height:478px;background:#222"></div>
<div class="a" style="left:482px;top:839.5px;width:276px;height:15.5px;background:#d8d8d8"></div>
<div class="a" style="left:482px;top:838.5px;width:262px;height:1.8px;background:#222"></div>
<div class="a" style="left:526.5px;top:362px;width:1.5px;height:477px;background:#222"></div>
<div class="a" style="left:483px;top:840.5px;width:44px;height:14px;background:#dcdcdc;border-top:1px solid #fff;border-left:1px solid #fff;box-sizing:border-box"></div>
<div class="a" style="left:484px;top:846px;width:43px;height:1.2px;background:#999"></div>
<div class="a" style="left:744px;top:362px;width:14px;height:478px;background:#dcdcdc"></div>
<div class="btn" style="left:746px;top:364px;width:12px;height:10px"></div>
<div class="a" style="left:749px;top:366.5px;width:0;height:0;border-left:3px solid transparent;border-right:3px solid transparent;border-bottom:4px solid #000"></div>
<div class="btn" style="left:746px;top:375px;width:12px;height:10.5px;background:#d0d0d0"></div>
<div class="btn" style="left:746px;top:831px;width:12px;height:9px"></div>
<div class="a" style="left:749px;top:834px;width:0;height:0;border-left:3px solid transparent;border-right:3px solid transparent;border-top:4px solid #000"></div>
<div class="a" style="left:528px;top:840.5px;width:217px;height:14px;background:#dcdcdc"></div>
<div class="btn" style="left:528px;top:841px;width:12px;height:13px"></div>
<div class="a" style="left:531.5px;top:844.5px;width:0;height:0;border-top:3px solid transparent;border-bottom:3px solid transparent;border-right:4px solid #000"></div>
<div class="btn" style="left:541.5px;top:841px;width:32px;height:13px;background:#d0d0d0"></div>
<div class="btn" style="left:733px;top:841px;width:12px;height:13px"></div>
<div class="a" style="left:737.5px;top:844.5px;width:0;height:0;border-top:3px solid transparent;border-bottom:3px solid transparent;border-left:4px solid #000"></div>
<div class="a" style="left:745px;top:840.5px;width:13px;height:14px;background:#dcdcdc"></div>
<div class="a" style="left:480.5px;top:863.5px;width:274.5px;height:140px;background:#fff;border:1px solid #222;border-right:2px solid #111;border-bottom:2px solid #111;box-sizing:border-box"></div>
<div class="t" style="left:481px;top:872.8px;width:276px;text-align:center;font-size:53.8px;color:#990000;transform:scaleY(1.02);transform-origin:0 45.5px">Illumination</div>
<div class="t" style="left:481px;top:942.5px;width:276px;text-align:center;font-size:53.8px;color:#990000;transform:scaleY(1.02);transform-origin:0 45.5px">52.1 rel</div>
<div class="a" style="left:480.5px;top:1016.5px;width:274px;height:139.5px;background:#fff;border:1px solid #222;border-right:2px solid #111;border-bottom:2px solid #111;box-sizing:border-box"></div>
<div class="t" style="left:480px;top:1021.3px;width:275px;text-align:center;font-size:62px;color:#000099;transform:scaleY(1.025);transform-origin:0 52.5px">Angle</div>
<div class="t" style="left:480px;top:1090.1px;width:275px;text-align:center;font-size:62px;color:#000099;transform:scaleY(1.025);transform-origin:0 52.5px">74.00 °</div>
<div class="a" style="left:764.5px;top:295px;width:1249.5px;height:867px;background:#fff;border-left:1px solid #bdbdbd;border-top:1px solid #bdbdbd;border-right:2px solid #000;border-bottom:2px solid #000;box-sizing:border-box"></div>
<div class="t" style="left:765px;top:301px;width:1244px;text-align:center;font-size:30.2px;transform:scaleY(1.03);transform-origin:0 25px">Optical Rotation of Sucrose</div>
<svg class="a" style="left:0;top:0" width="2443" height="1374" viewBox="0 0 2443 1374"><line x1="1166.0" y1="333" x2="1166.0" y2="1101" stroke="#c8c8c8" stroke-width="1.3"/><line x1="1482.2" y1="333" x2="1482.2" y2="1101" stroke="#c8c8c8" stroke-width="1.3"/><line x1="1798.5" y1="333" x2="1798.5" y2="1101" stroke="#c8c8c8" stroke-width="1.3"/><line x1="850" y1="947.9" x2="1988" y2="947.9" stroke="#c8c8c8" stroke-width="1.3"/><line x1="850" y1="794.2" x2="1988" y2="794.2" stroke="#c8c8c8" stroke-width="1.3"/><line x1="850" y1="640.4" x2="1988" y2="640.4" stroke="#c8c8c8" stroke-width="1.3"/><line x1="850" y1="486.7" x2="1988" y2="486.7" stroke="#c8c8c8" stroke-width="1.3"/><rect x="849.7" y="332.8" width="1138.3" height="768.8" fill="none" stroke="#8c8c8c" stroke-width="1.2"/><line x1="849.7" y1="332.5" x2="849.7" y2="1102" stroke="#505050" stroke-width="1.6"/><line x1="849" y1="1101.6" x2="1988.5" y2="1101.6" stroke="#505050" stroke-width="1.6"/><line x1="849.7" y1="1101.6" x2="849.7" y2="1110.1" stroke="#404040" stroke-width="1.3"/><line x1="913.0" y1="1101.6" x2="913.0" y2="1105.6" stroke="#404040" stroke-width="1.3"/><line x1="976.2" y1="1101.6" x2="976.2" y2="1105.6" stroke="#404040" stroke-width="1.3"/><line x1="1039.5" y1="1101.6" x2="1039.5" y2="1105.6" stroke="#404040" stroke-width="1.3"/><line x1="1102.7" y1="1101.6" x2="1102.7" y2="1105.6" stroke="#404040" stroke-width="1.3"/><line x1="1166.0" y1="1101.6" x2="1166.0" y2="1110.1" stroke="#404040" stroke-width="1.3"/><line x1="1229.2" y1="1101.6" x2="1229.2" y2="1105.6" stroke="#404040" stroke-width="1.3"/><line x1="1292.5" y1="1101.6" x2="1292.5" y2="1105.6" stroke="#404040" stroke-width="1.3"/><line x1="1355.7" y1="1101.6" x2="1355.7" y2="1105.6" stroke="#404040" stroke-width="1.3"/><line x1="1419.0" y1="1101.6" x2="1419.0" y2="1105.6" stroke="#404040" stroke-width="1.3"/><line x1="1482.2" y1="1101.6" x2="1482.2" y2="1110.1" stroke="#404040" stroke-width="1.3"/><line x1="1545.5" y1="1101.6" x2="1545.5" y2="1105.6" stroke="#404040" stroke-width="1.3"/><line x1="1608.7" y1="1101.6" x2="1608.7" y2="1105.6" stroke="#404040" stroke-width="1.3"/><line x1="1672.0" y1="1101.6" x2="1672.0" y2="1105.6" stroke="#404040" stroke-width="1.3"/><line x1="1735.2" y1="1101.6" x2="1735.2" y2="1105.6" stroke="#404040" stroke-width="1.3"/><line x1="1798.5" y1="1101.6" x2="1798.5" y2="1110.1" stroke="#404040" stroke-width="1.3"/><line x1="1861.7" y1="1101.6" x2="1861.7" y2="1105.6" stroke="#404040" stroke-width="1.3"/><line x1="1925.0" y1="1101.6" x2="1925.0" y2="1105.6" stroke="#404040" stroke-width="1.3"/><line x1="1988.2" y1="1101.6" x2="1988.2" y2="1105.6" stroke="#404040" stroke-width="1.3"/><line x1="849.7" y1="1101.6" x2="841.2" y2="1101.6" stroke="#404040" stroke-width="1.3"/><line x1="849.7" y1="1024.7" x2="845.7" y2="1024.7" stroke="#404040" stroke-width="1.3"/><line x1="849.7" y1="947.9" x2="841.2" y2="947.9" stroke="#404040" stroke-width="1.3"/><line x1="849.7" y1="871.0" x2="845.7" y2="871.0" stroke="#404040" stroke-width="1.3"/><line x1="849.7" y1="794.2" x2="841.2" y2="794.2" stroke="#404040" stroke-width="1.3"/><line x1="849.7" y1="717.3" x2="845.7" y2="717.3" stroke="#404040" stroke-width="1.3"/><line x1="849.7" y1="640.4" x2="841.2" y2="640.4" stroke="#404040" stroke-width="1.3"/><line x1="849.7" y1="563.6" x2="845.7" y2="563.6" stroke="#404040" stroke-width="1.3"/><line x1="849.7" y1="486.7" x2="841.2" y2="486.7" stroke="#404040" stroke-width="1.3"/><line x1="849.7" y1="409.9" x2="845.7" y2="409.9" stroke="#404040" stroke-width="1.3"/><line x1="849.7" y1="333.0" x2="841.2" y2="333.0" stroke="#404040" stroke-width="1.3"/><g fill="#ff0033"><circle cx="849.7" cy="458.1" r="2.35"/><circle cx="850.6" cy="456.1" r="2.35"/><circle cx="851.6" cy="455.4" r="2.35"/><circle cx="852.5" cy="452.7" r="2.35"/><circle cx="853.5" cy="452.0" r="2.35"/><circle cx="854.4" cy="450.1" r="2.35"/><circle cx="855.4" cy="448.1" r="2.35"/><circle cx="856.3" cy="447.4" r="2.35"/><circle cx="857.3" cy="445.2" r="2.35"/><circle cx="858.2" cy="444.5" r="2.35"/><circle cx="859.2" cy="442.5" r="2.35"/><circle cx="860.1" cy="441.3" r="2.35"/><circle cx="861.1" cy="440.6" r="2.35"/><circle cx="862.0" cy="440.1" r="2.35"/><circle cx="863.0" cy="437.7" r="2.35"/><circle cx="863.9" cy="436.7" r="2.35"/><circle cx="864.9" cy="436.3" r="2.35"/><circle cx="865.8" cy="435.8" r="2.35"/><circle cx="866.8" cy="434.2" r="2.35"/><circle cx="867.7" cy="432.9" r="2.35"/><circle cx="868.7" cy="433.0" r="2.35"/><circle cx="869.6" cy="430.4" r="2.35"/><circle cx="870.6" cy="431.0" r="2.35"/><circle cx="871.5" cy="429.2" r="2.35"/><circle cx="872.5" cy="428.1" r="2.35"/><circle cx="873.4" cy="427.4" r="2.35"/><circle cx="874.4" cy="427.0" r="2.35"/><circle cx="875.3" cy="427.3" r="2.35"/><circle cx="876.3" cy="425.6" r="2.35"/><circle cx="877.2" cy="425.7" r="2.35"/><circle cx="878.2" cy="425.3" r="2.35"/><circle cx="879.1" cy="424.3" r="2.35"/><circle cx="880.1" cy="424.2" r="2.35"/><circle cx="881.0" cy="423.0" r="2.35"/><circle cx="882.0" cy="422.6" r="2.35"/><circle cx="882.9" cy="422.6" r="2.35"/><circle cx="883.9" cy="423.2" r="2.35"/><circle cx="884.8" cy="422.5" r="2.35"/><circle cx="885.8" cy="422.1" r="2.35"/><circle cx="886.7" cy="422.5" r="2.35"/><circle cx="887.7" cy="422.1" r="2.35"/><circle cx="888.6" cy="421.8" r="2.35"/><circle cx="889.5" cy="422.7" r="2.35"/><circle cx="890.5" cy="422.5" r="2.35"/><circle cx="891.4" cy="421.8" r="2.35"/><circle cx="892.4" cy="422.5" r="2.35"/><circle cx="893.3" cy="422.5" r="2.35"/><circle cx="894.3" cy="423.3" r="2.35"/><circle cx="895.2" cy="423.3" r="2.35"/><circle cx="896.2" cy="422.7" r="2.35"/><circle cx="897.1" cy="424.3" r="2.35"/><circle cx="898.1" cy="423.0" r="2.35"/><circle cx="899.0" cy="423.9" r="2.35"/><circle cx="900.0" cy="424.9" r="2.35"/><circle cx="900.9" cy="424.3" r="2.35"/><circle cx="901.9" cy="425.3" r="2.35"/><circle cx="902.8" cy="425.0" r="2.35"/><circle cx="903.8" cy="426.7" r="2.35"/><circle cx="904.7" cy="427.4" r="2.35"/><circle cx="905.7" cy="427.7" r="2.35"/><circle cx="906.6" cy="428.8" r="2.35"/><circle cx="907.6" cy="428.5" r="2.35"/><circle cx="908.5" cy="429.9" r="2.35"/><circle cx="909.5" cy="430.5" r="2.35"/><circle cx="910.4" cy="431.2" r="2.35"/><circle cx="911.4" cy="431.8" r="2.35"/><circle cx="912.3" cy="433.3" r="2.35"/><circle cx="913.3" cy="434.4" r="2.35"/><circle cx="914.2" cy="434.5" r="2.35"/><circle cx="915.2" cy="435.8" r="2.35"/><circle cx="916.1" cy="435.7" r="2.35"/><circle cx="917.1" cy="437.8" r="2.35"/><circle cx="918.0" cy="438.8" r="2.35"/><circle cx="919.0" cy="440.5" r="2.35"/><circle cx="919.9" cy="441.3" r="2.35"/><circle cx="920.9" cy="441.5" r="2.35"/><circle cx="921.8" cy="442.9" r="2.35"/><circle cx="922.8" cy="444.6" r="2.35"/><circle cx="923.7" cy="444.7" r="2.35"/><circle cx="924.7" cy="446.8" r="2.35"/><circle cx="925.6" cy="447.6" r="2.35"/><circle cx="926.5" cy="448.8" r="2.35"/><circle cx="927.5" cy="450.1" r="2.35"/><circle cx="928.4" cy="452.8" r="2.35"/><circle cx="929.4" cy="453.1" r="2.35"/><circle cx="930.3" cy="454.8" r="2.35"/><circle cx="931.3" cy="456.6" r="2.35"/><circle cx="932.2" cy="459.0" r="2.35"/><circle cx="933.2" cy="459.1" r="2.35"/><circle cx="934.1" cy="461.4" r="2.35"/><circle cx="935.1" cy="463.3" r="2.35"/><circle cx="936.0" cy="465.5" r="2.35"/><circle cx="937.0" cy="467.1" r="2.35"/><circle cx="937.9" cy="468.9" r="2.35"/><circle cx="938.9" cy="469.7" r="2.35"/><circle cx="939.8" cy="471.7" r="2.35"/><circle cx="940.8" cy="473.4" r="2.35"/><circle cx="941.7" cy="476.2" r="2.35"/><circle cx="942.7" cy="478.3" r="2.35"/><circle cx="943.6" cy="478.7" r="2.35"/><circle cx="944.6" cy="480.7" r="2.35"/><circle cx="945.5" cy="482.8" r="2.35"/><circle cx="946.5" cy="484.8" r="2.35"/><circle cx="947.4" cy="487.3" r="2.35"/><circle cx="948.4" cy="489.6" r="2.35"/><circle cx="949.3" cy="491.1" r="2.35"/><circle cx="950.3" cy="492.7" r="2.35"/><circle cx="951.2" cy="495.6" r="2.35"/><circle cx="952.2" cy="497.7" r="2.35"/><circle cx="953.1" cy="500.3" r="2.35"/><circle cx="954.1" cy="503.2" r="2.35"/><circle cx="955.0" cy="505.0" r="2.35"/><circle cx="956.0" cy="507.0" r="2.35"/><circle cx="956.9" cy="509.5" r="2.35"/><circle cx="957.9" cy="511.9" r="2.35"/><circle cx="958.8" cy="513.9" r="2.35"/><circle cx="962.5" cy="523.4" r="2.35"/><circle cx="966.2" cy="533.3" r="2.35"/><circle cx="969.9" cy="543.5" r="2.35"/><circle cx="973.6" cy="554.0" r="2.35"/><circle cx="977.3" cy="564.9" r="2.35"/><circle cx="981.0" cy="576.1" r="2.35"/><circle cx="984.7" cy="587.6" r="2.35"/><circle cx="988.4" cy="599.3" r="2.35"/><circle cx="992.1" cy="611.3" r="2.35"/><circle cx="995.8" cy="623.5" r="2.35"/><circle cx="999.5" cy="635.9" r="2.35"/><circle cx="1003.2" cy="648.6" r="2.35"/><circle cx="1006.9" cy="661.4" r="2.35"/><circle cx="1010.6" cy="674.3" r="2.35"/><circle cx="1014.3" cy="687.4" r="2.35"/><circle cx="1018.0" cy="700.5" r="2.35"/><circle cx="1021.7" cy="713.8" r="2.35"/><circle cx="1025.4" cy="727.1" r="2.35"/><circle cx="1029.1" cy="740.4" r="2.35"/><circle cx="1032.8" cy="753.8" r="2.35"/><circle cx="1036.5" cy="767.1" r="2.35"/><circle cx="1040.2" cy="780.4" r="2.35"/><circle cx="1043.9" cy="793.7" r="2.35"/><circle cx="1047.6" cy="806.9" r="2.35"/><circle cx="1051.3" cy="820.0" r="2.35"/><circle cx="1055.0" cy="833.0" r="2.35"/><circle cx="1058.7" cy="845.8" r="2.35"/><circle cx="1062.4" cy="858.5" r="2.35"/><circle cx="1066.1" cy="871.0" r="2.35"/><circle cx="1069.8" cy="883.3" r="2.35"/><circle cx="1073.5" cy="895.3" r="2.35"/><circle cx="1077.2" cy="907.1" r="2.35"/><circle cx="1080.9" cy="918.7" r="2.35"/><circle cx="1084.6" cy="930.0" r="2.35"/><circle cx="1088.3" cy="941.0" r="2.35"/><circle cx="1092.0" cy="951.6" r="2.35"/><circle cx="1095.7" cy="961.9" r="2.35"/><circle cx="1099.4" cy="971.9" r="2.35"/><circle cx="1102.7" cy="980.4" r="2.35"/><circle cx="1105.5" cy="987.6" r="2.35"/><circle cx="1108.4" cy="994.5" r="2.35"/><circle cx="1111.2" cy="1001.2" r="2.35"/><circle cx="1114.1" cy="1007.6" r="2.35"/><circle cx="1116.9" cy="1013.8" r="2.35"/><circle cx="1119.8" cy="1019.7" r="2.35"/><circle cx="1122.6" cy="1025.3" r="2.35"/><circle cx="1125.5" cy="1030.7" r="2.35"/><circle cx="1128.3" cy="1035.8" r="2.35"/><circle cx="1131.2" cy="1040.6" r="2.35"/><circle cx="1134.0" cy="1045.1" r="2.35"/><circle cx="1136.9" cy="1049.3" r="2.35"/><circle cx="1139.7" cy="1053.3" r="2.35"/><circle cx="1142.5" cy="1056.9" r="2.35"/><circle cx="1145.4" cy="1060.2" r="2.35"/><circle cx="1148.2" cy="1063.3" r="2.35"/><circle cx="1151.1" cy="1066.0" r="2.35"/><circle cx="1153.9" cy="1068.4" r="2.35"/><circle cx="1156.8" cy="1070.4" r="2.35"/><circle cx="1159.6" cy="1072.2" r="2.35"/><circle cx="1162.5" cy="1073.7" r="2.35"/><circle cx="1165.3" cy="1074.8" r="2.35"/><circle cx="1168.2" cy="1075.6" r="2.35"/><circle cx="1171.0" cy="1076.1" r="2.35"/><circle cx="1173.9" cy="1076.2" r="2.35"/><circle cx="1176.7" cy="1076.1" r="2.35"/><circle cx="1179.5" cy="1075.6" r="2.35"/><circle cx="1182.4" cy="1074.8" r="2.35"/><circle cx="1185.2" cy="1073.7" r="2.35"/><circle cx="1188.1" cy="1072.3" r="2.35"/><circle cx="1190.9" cy="1070.5" r="2.35"/><circle cx="1193.8" cy="1068.5" r="2.35"/><circle cx="1196.6" cy="1066.1" r="2.35"/><circle cx="1197.6" cy="1065.3" r="2.35"/><circle cx="1200.1" cy="1062.8" r="2.35"/><circle cx="1202.6" cy="1060.1" r="2.35"/><circle cx="1205.2" cy="1057.2" r="2.35"/><circle cx="1207.7" cy="1054.0" r="2.35"/><circle cx="1210.2" cy="1050.6" r="2.35"/><circle cx="1212.8" cy="1047.0" r="2.35"/><circle cx="1215.3" cy="1043.1" r="2.35"/><circle cx="1217.8" cy="1039.1" r="2.35"/><circle cx="1220.3" cy="1034.8" r="2.35"/><circle cx="1222.9" cy="1030.2" r="2.35"/><circle cx="1225.4" cy="1025.5" r="2.35"/><circle cx="1227.9" cy="1020.5" r="2.35"/><circle cx="1230.5" cy="1015.4" r="2.35"/><circle cx="1233.0" cy="1010.0" r="2.35"/><circle cx="1235.5" cy="1004.5" r="2.35"/><circle cx="1238.1" cy="998.7" r="2.35"/><circle cx="1240.6" cy="992.8" r="2.35"/><circle cx="1243.1" cy="986.6" r="2.35"/><circle cx="1245.6" cy="980.3" r="2.35"/><circle cx="1248.2" cy="973.8" r="2.35"/><circle cx="1250.7" cy="967.2" r="2.35"/><circle cx="1253.2" cy="960.3" r="2.35"/><circle cx="1255.8" cy="953.3" r="2.35"/><circle cx="1258.3" cy="946.2" r="2.35"/><circle cx="1260.8" cy="938.9" r="2.35"/><circle cx="1263.4" cy="931.5" r="2.35"/><circle cx="1265.9" cy="923.9" r="2.35"/><circle cx="1268.4" cy="916.2" r="2.35"/><circle cx="1270.9" cy="908.4" r="2.35"/><circle cx="1273.5" cy="900.4" r="2.35"/><circle cx="1276.0" cy="892.3" r="2.35"/><circle cx="1278.5" cy="884.2" r="2.35"/><circle cx="1281.1" cy="875.9" r="2.35"/><circle cx="1283.6" cy="867.5" r="2.35"/><circle cx="1286.1" cy="859.0" r="2.35"/><circle cx="1288.7" cy="850.5" r="2.35"/><circle cx="1291.2" cy="841.9" r="2.35"/><circle cx="1293.7" cy="833.2" r="2.35"/><circle cx="1296.2" cy="824.4" r="2.35"/><circle cx="1298.8" cy="815.6" r="2.35"/><circle cx="1301.3" cy="806.8" r="2.35"/><circle cx="1303.8" cy="797.9" r="2.35"/><circle cx="1306.4" cy="789.0" r="2.35"/><circle cx="1308.9" cy="780.0" r="2.35"/><circle cx="1311.4" cy="771.0" r="2.35"/><circle cx="1314.0" cy="762.1" r="2.35"/><circle cx="1316.5" cy="753.1" r="2.35"/><circle cx="1319.0" cy="744.1" r="2.35"/><circle cx="1321.5" cy="735.1" r="2.35"/><circle cx="1324.1" cy="726.1" r="2.35"/><circle cx="1326.6" cy="717.2" r="2.35"/><circle cx="1329.1" cy="708.3" r="2.35"/><circle cx="1331.7" cy="699.4" r="2.35"/><circle cx="1334.2" cy="690.5" r="2.35"/><circle cx="1336.7" cy="681.7" r="2.35"/><circle cx="1339.3" cy="673.0" r="2.35"/><circle cx="1341.8" cy="664.3" r="2.35"/><circle cx="1344.3" cy="655.7" r="2.35"/><circle cx="1346.8" cy="647.2" r="2.35"/><circle cx="1349.4" cy="638.8" r="2.35"/><circle cx="1351.9" cy="630.4" r="2.35"/><circle cx="1354.4" cy="622.2" r="2.35"/><circle cx="1357.0" cy="614.0" r="2.35"/><circle cx="1359.5" cy="606.0" r="2.35"/><circle cx="1362.0" cy="598.1" r="2.35"/><circle cx="1364.6" cy="590.3" r="2.35"/><circle cx="1367.1" cy="582.6" r="2.35"/><circle cx="1369.6" cy="575.0" r="2.35"/><circle cx="1372.1" cy="567.6" r="2.35"/><circle cx="1374.7" cy="560.4" r="2.35"/><circle cx="1377.2" cy="553.3" r="2.35"/><circle cx="1379.7" cy="546.3" r="2.35"/><circle cx="1382.3" cy="539.5" r="2.35"/><circle cx="1384.8" cy="532.9" r="2.35"/><circle cx="1387.3" cy="526.5" r="2.35"/><circle cx="1389.9" cy="520.2" r="2.35"/><circle cx="1392.4" cy="514.1" r="2.35"/><circle cx="1394.9" cy="508.2" r="2.35"/><circle cx="1397.4" cy="502.5" r="2.35"/><circle cx="1400.0" cy="497.0" r="2.35"/><circle cx="1402.5" cy="491.7" r="2.35"/><circle cx="1405.0" cy="486.6" r="2.35"/><circle cx="1407.6" cy="481.7" r="2.35"/><circle cx="1410.1" cy="477.0" r="2.35"/><circle cx="1412.6" cy="472.5" r="2.35"/><circle cx="1415.2" cy="468.3" r="2.35"/><circle cx="1417.7" cy="464.3" r="2.35"/><circle cx="1420.2" cy="460.5" r="2.35"/><circle cx="1422.7" cy="456.9" r="2.35"/><circle cx="1425.3" cy="453.5" r="2.35"/><circle cx="1427.8" cy="450.4" r="2.35"/><circle cx="1430.3" cy="447.6" r="2.35"/><circle cx="1432.9" cy="444.9" r="2.35"/><circle cx="1435.4" cy="442.5" r="2.35"/><circle cx="1437.9" cy="440.4" r="2.35"/><circle cx="1440.5" cy="438.5" r="2.35"/><circle cx="1443.0" cy="436.8" r="2.35"/><circle cx="1445.5" cy="435.4" r="2.35"/><circle cx="1448.0" cy="434.3" r="2.35"/><circle cx="1450.6" cy="433.4" r="2.35"/><circle cx="1452.8" cy="432.8" r="2.35"/><circle cx="1455.0" cy="432.4" r="2.35"/><circle cx="1457.2" cy="432.2" r="2.35"/><circle cx="1459.4" cy="432.2" r="2.35"/><circle cx="1461.6" cy="432.3" r="2.35"/><circle cx="1463.9" cy="432.7" r="2.35"/><circle cx="1466.1" cy="433.3" r="2.35"/><circle cx="1468.3" cy="434.0" r="2.35"/><circle cx="1470.5" cy="435.0" r="2.35"/><circle cx="1472.7" cy="436.1" r="2.35"/><circle cx="1474.9" cy="437.4" r="2.35"/><circle cx="1477.1" cy="439.0" r="2.35"/><circle cx="1479.4" cy="440.7" r="2.35"/><circle cx="1481.6" cy="442.5" r="2.35"/><circle cx="1483.8" cy="444.6" r="2.35"/><circle cx="1486.0" cy="446.9" r="2.35"/><circle cx="1488.2" cy="449.3" r="2.35"/><circle cx="1490.4" cy="452.0" r="2.35"/><circle cx="1492.6" cy="454.8" r="2.35"/><circle cx="1494.8" cy="457.8" r="2.35"/><circle cx="1497.1" cy="460.9" r="2.35"/><circle cx="1499.3" cy="464.3" r="2.35"/><circle cx="1501.5" cy="467.8" r="2.35"/><circle cx="1503.7" cy="471.4" r="2.35"/><circle cx="1505.9" cy="475.3" r="2.35"/><circle cx="1508.1" cy="479.3" r="2.35"/><circle cx="1510.3" cy="483.5" r="2.35"/><circle cx="1512.6" cy="487.8" r="2.35"/><circle cx="1514.8" cy="492.3" r="2.35"/><circle cx="1517.0" cy="497.0" r="2.35"/><circle cx="1519.2" cy="501.8" r="2.35"/><circle cx="1521.4" cy="506.8" r="2.35"/><circle cx="1523.6" cy="511.9" r="2.35"/><circle cx="1525.8" cy="517.1" r="2.35"/><circle cx="1528.1" cy="522.5" r="2.35"/><circle cx="1530.3" cy="528.1" r="2.35"/><circle cx="1532.5" cy="533.7" r="2.35"/><circle cx="1534.7" cy="539.5" r="2.35"/><circle cx="1536.9" cy="545.5" r="2.35"/><circle cx="1539.1" cy="551.5" r="2.35"/><circle cx="1541.3" cy="557.7" r="2.35"/><circle cx="1543.6" cy="564.0" r="2.35"/><circle cx="1545.8" cy="570.4" r="2.35"/><circle cx="1548.0" cy="576.9" r="2.35"/><circle cx="1550.2" cy="583.5" r="2.35"/><circle cx="1552.4" cy="590.3" r="2.35"/><circle cx="1554.6" cy="597.1" r="2.35"/><circle cx="1556.8" cy="604.0" r="2.35"/><circle cx="1559.0" cy="611.0" r="2.35"/><circle cx="1561.3" cy="618.1" r="2.35"/><circle cx="1563.5" cy="625.3" r="2.35"/><circle cx="1565.7" cy="632.5" r="2.35"/><circle cx="1567.9" cy="639.8" r="2.35"/><circle cx="1570.1" cy="647.2" r="2.35"/><circle cx="1572.3" cy="654.7" r="2.35"/><circle cx="1574.5" cy="662.2" r="2.35"/><circle cx="1576.8" cy="669.8" r="2.35"/><circle cx="1579.0" cy="677.4" r="2.35"/><circle cx="1581.2" cy="685.0" r="2.35"/><circle cx="1583.4" cy="692.7" r="2.35"/><circle cx="1585.6" cy="700.5" r="2.35"/><circle cx="1587.8" cy="708.3" r="2.35"/><circle cx="1590.0" cy="716.1" r="2.35"/><circle cx="1592.3" cy="723.9" r="2.35"/><circle cx="1594.5" cy="731.7" r="2.35"/><circle cx="1596.7" cy="739.6" r="2.35"/><circle cx="1598.9" cy="747.4" r="2.35"/><circle cx="1601.1" cy="755.3" r="2.35"/><circle cx="1603.3" cy="763.2" r="2.35"/><circle cx="1605.5" cy="771.0" r="2.35"/><circle cx="1607.8" cy="778.9" r="2.35"/><circle cx="1608.7" cy="782.3" r="2.35"/><circle cx="1611.2" cy="791.2" r="2.35"/><circle cx="1613.8" cy="800.1" r="2.35"/><circle cx="1616.3" cy="809.0" r="2.35"/><circle cx="1618.8" cy="817.8" r="2.35"/><circle cx="1621.4" cy="826.6" r="2.35"/><circle cx="1623.9" cy="835.4" r="2.35"/><circle cx="1626.4" cy="844.0" r="2.35"/><circle cx="1628.9" cy="852.6" r="2.35"/><circle cx="1631.5" cy="861.2" r="2.35"/><circle cx="1634.0" cy="869.6" r="2.35"/><circle cx="1636.5" cy="878.0" r="2.35"/><circle cx="1639.1" cy="886.2" r="2.35"/><circle cx="1641.6" cy="894.4" r="2.35"/><circle cx="1644.1" cy="902.4" r="2.35"/><circle cx="1646.7" cy="910.3" r="2.35"/><circle cx="1649.2" cy="918.1" r="2.35"/><circle cx="1651.7" cy="925.8" r="2.35"/><circle cx="1654.2" cy="933.3" r="2.35"/><circle cx="1656.8" cy="940.7" r="2.35"/><circle cx="1659.3" cy="948.0" r="2.35"/><circle cx="1661.8" cy="955.1" r="2.35"/><circle cx="1664.4" cy="962.1" r="2.35"/><circle cx="1666.9" cy="968.8" r="2.35"/><circle cx="1669.4" cy="975.5" r="2.35"/><circle cx="1672.0" cy="981.9" r="2.35"/><circle cx="1674.5" cy="988.2" r="2.35"/><circle cx="1677.0" cy="994.3" r="2.35"/><circle cx="1679.5" cy="1000.2" r="2.35"/><circle cx="1682.1" cy="1005.9" r="2.35"/><circle cx="1684.6" cy="1011.4" r="2.35"/><circle cx="1687.1" cy="1016.7" r="2.35"/><circle cx="1689.7" cy="1021.8" r="2.35"/><circle cx="1692.2" cy="1026.7" r="2.35"/><circle cx="1694.7" cy="1031.4" r="2.35"/><circle cx="1697.3" cy="1035.9" r="2.35"/><circle cx="1699.8" cy="1040.1" r="2.35"/><circle cx="1702.3" cy="1044.1" r="2.35"/><circle cx="1704.8" cy="1047.9" r="2.35"/><circle cx="1707.4" cy="1051.5" r="2.35"/><circle cx="1709.9" cy="1054.8" r="2.35"/><circle cx="1712.4" cy="1058.0" r="2.35"/><circle cx="1715.0" cy="1060.8" r="2.35"/><circle cx="1717.5" cy="1063.4" r="2.35"/><circle cx="1720.0" cy="1065.8" r="2.35"/><circle cx="1722.6" cy="1068.0" r="2.35"/><circle cx="1725.1" cy="1069.9" r="2.35"/><circle cx="1727.6" cy="1071.5" r="2.35"/><circle cx="1730.1" cy="1072.9" r="2.35"/><circle cx="1732.7" cy="1074.1" r="2.35"/><circle cx="1735.2" cy="1075.0" r="2.35"/><circle cx="1737.7" cy="1075.7" r="2.35"/><circle cx="1740.3" cy="1076.1" r="2.35"/><circle cx="1742.8" cy="1076.2" r="2.35"/><circle cx="1745.3" cy="1076.1" r="2.35"/><circle cx="1747.9" cy="1075.8" r="2.35"/><circle cx="1750.4" cy="1075.2" r="2.35"/><circle cx="1752.9" cy="1074.3" r="2.35"/><circle cx="1755.4" cy="1073.2" r="2.35"/><circle cx="1758.0" cy="1071.9" r="2.35"/><circle cx="1760.5" cy="1070.3" r="2.35"/><circle cx="1763.0" cy="1068.4" r="2.35"/><circle cx="1765.6" cy="1066.3" r="2.35"/><circle cx="1766.8" cy="1065.2" r="2.35"/><circle cx="1769.6" cy="1062.5" r="2.35"/><circle cx="1772.3" cy="1059.5" r="2.35"/><circle cx="1775.1" cy="1056.2" r="2.35"/><circle cx="1777.8" cy="1052.7" r="2.35"/><circle cx="1780.6" cy="1048.9" r="2.35"/><circle cx="1783.3" cy="1044.8" r="2.35"/><circle cx="1786.1" cy="1040.4" r="2.35"/><circle cx="1788.8" cy="1035.8" r="2.35"/><circle cx="1791.6" cy="1030.9" r="2.35"/><circle cx="1794.3" cy="1025.7" r="2.35"/><circle cx="1797.1" cy="1020.3" r="2.35"/><circle cx="1799.8" cy="1014.7" r="2.35"/><circle cx="1802.6" cy="1008.8" r="2.35"/><circle cx="1805.3" cy="1002.7" r="2.35"/><circle cx="1808.1" cy="996.3" r="2.35"/><circle cx="1810.8" cy="989.7" r="2.35"/><circle cx="1813.6" cy="982.9" r="2.35"/><circle cx="1816.3" cy="975.9" r="2.35"/><circle cx="1819.1" cy="968.7" r="2.35"/><circle cx="1821.9" cy="961.2" r="2.35"/><circle cx="1824.6" cy="953.6" r="2.35"/><circle cx="1827.4" cy="945.8" r="2.35"/><circle cx="1830.1" cy="937.8" r="2.35"/><circle cx="1832.9" cy="929.7" r="2.35"/><circle cx="1835.6" cy="921.4" r="2.35"/><circle cx="1838.4" cy="912.9" r="2.35"/><circle cx="1841.1" cy="904.3" r="2.35"/><circle cx="1843.9" cy="895.5" r="2.35"/><circle cx="1846.6" cy="886.6" r="2.35"/><circle cx="1849.4" cy="877.6" r="2.35"/><circle cx="1852.1" cy="868.4" r="2.35"/><circle cx="1854.9" cy="859.2" r="2.35"/><circle cx="1857.6" cy="849.9" r="2.35"/><circle cx="1860.4" cy="840.4" r="2.35"/><circle cx="1863.1" cy="830.9" r="2.35"/><circle cx="1865.9" cy="821.3" r="2.35"/><circle cx="1868.6" cy="811.7" r="2.35"/><circle cx="1871.4" cy="802.0" r="2.35"/><circle cx="1874.1" cy="792.2" r="2.35"/><circle cx="1876.9" cy="782.4" r="2.35"/><circle cx="1879.6" cy="772.6" r="2.35"/><circle cx="1882.4" cy="762.8" r="2.35"/><circle cx="1885.1" cy="752.9" r="2.35"/><circle cx="1887.9" cy="743.1" r="2.35"/><circle cx="1890.6" cy="733.2" r="2.35"/><circle cx="1893.4" cy="723.4" r="2.35"/><circle cx="1896.1" cy="713.6" r="2.35"/><circle cx="1898.9" cy="703.8" r="2.35"/><circle cx="1901.6" cy="694.1" r="2.35"/><circle cx="1904.4" cy="684.5" r="2.35"/><circle cx="1907.1" cy="674.8" r="2.35"/><circle cx="1909.9" cy="665.3" r="2.35"/><circle cx="1912.6" cy="655.9" r="2.35"/><circle cx="1915.4" cy="646.5" r="2.35"/><circle cx="1918.2" cy="637.2" r="2.35"/><circle cx="1920.9" cy="628.1" r="2.35"/><circle cx="1923.7" cy="619.0" r="2.35"/><circle cx="1926.4" cy="610.1" r="2.35"/><circle cx="1929.2" cy="601.3" r="2.35"/><circle cx="1931.9" cy="592.7" r="2.35"/><circle cx="1934.7" cy="584.2" r="2.35"/><circle cx="1937.4" cy="575.8" r="2.35"/><circle cx="1940.2" cy="567.6" r="2.35"/><circle cx="1942.9" cy="559.6" r="2.35"/><circle cx="1945.7" cy="551.8" r="2.35"/><circle cx="1948.4" cy="544.1" r="2.35"/><circle cx="1951.2" cy="536.6" r="2.35"/><circle cx="1953.9" cy="529.4" r="2.35"/><circle cx="1956.7" cy="522.3" r="2.35"/><circle cx="1959.4" cy="515.4" r="2.35"/><circle cx="1962.2" cy="508.8" r="2.35"/><circle cx="1964.9" cy="502.4" r="2.35"/><circle cx="1967.7" cy="496.2" r="2.35"/><circle cx="1970.4" cy="490.3" r="2.35"/><circle cx="1973.2" cy="484.6" r="2.35"/><circle cx="1975.9" cy="479.1" r="2.35"/><circle cx="1978.7" cy="473.9" r="2.35"/><circle cx="1981.4" cy="469.0" r="2.35"/><circle cx="1984.2" cy="464.3" r="2.35"/><circle cx="1986.9" cy="459.9" r="2.35"/><circle cx="1988.2" cy="457.9" r="2.35"/></g><g fill="#990000"><circle cx="849.7" cy="784.4" r="3.30"/><circle cx="851.0" cy="781.9" r="3.30"/><circle cx="852.2" cy="779.3" r="3.30"/><circle cx="853.5" cy="776.8" r="3.30"/><circle cx="854.8" cy="774.4" r="3.30"/><circle cx="856.0" cy="771.9" r="3.30"/><circle cx="857.3" cy="769.5" r="3.30"/><circle cx="858.6" cy="767.1" r="3.30"/><circle cx="859.8" cy="764.7" r="3.30"/><circle cx="861.1" cy="762.3" r="3.30"/><circle cx="862.4" cy="759.9" r="3.30"/><circle cx="863.6" cy="757.6" r="3.30"/><circle cx="864.9" cy="755.3" r="3.30"/><circle cx="866.1" cy="753.0" r="3.30"/><circle cx="867.4" cy="750.8" r="3.30"/><circle cx="868.7" cy="748.5" r="3.30"/><circle cx="869.9" cy="746.3" r="3.30"/><circle cx="871.2" cy="744.1" r="3.30"/><circle cx="872.5" cy="742.0" r="3.30"/><circle cx="873.7" cy="739.9" r="3.30"/><circle cx="875.0" cy="737.8" r="3.30"/><circle cx="876.3" cy="735.7" r="3.30"/><circle cx="877.5" cy="733.6" r="3.30"/><circle cx="878.8" cy="731.6" r="3.30"/><circle cx="880.1" cy="729.6" r="3.30"/><circle cx="881.3" cy="727.6" r="3.30"/><circle cx="882.6" cy="725.7" r="3.30"/><circle cx="883.9" cy="723.8" r="3.30"/><circle cx="885.1" cy="721.9" r="3.30"/><circle cx="886.4" cy="720.1" r="3.30"/><circle cx="887.7" cy="718.3" r="3.30"/><circle cx="888.9" cy="716.5" r="3.30"/><circle cx="890.2" cy="714.7" r="3.30"/><circle cx="891.4" cy="713.0" r="3.30"/><circle cx="892.7" cy="711.3" r="3.30"/><circle cx="894.0" cy="709.7" r="3.30"/><circle cx="895.2" cy="708.0" r="3.30"/><circle cx="896.5" cy="706.4" r="3.30"/><circle cx="897.8" cy="704.9" r="3.30"/><circle cx="899.0" cy="703.3" r="3.30"/><circle cx="900.3" cy="701.9" r="3.30"/><circle cx="901.6" cy="700.4" r="3.30"/><circle cx="902.8" cy="699.0" r="3.30"/><circle cx="904.1" cy="697.6" r="3.30"/><circle cx="905.4" cy="696.2" r="3.30"/><circle cx="906.6" cy="694.9" r="3.30"/><circle cx="907.9" cy="693.6" r="3.30"/><circle cx="909.2" cy="692.4" r="3.30"/><circle cx="910.4" cy="691.2" r="3.30"/><circle cx="911.7" cy="690.0" r="3.30"/><circle cx="913.0" cy="688.8" r="3.30"/><circle cx="914.2" cy="687.7" r="3.30"/><circle cx="915.5" cy="686.7" r="3.30"/><circle cx="916.7" cy="685.6" r="3.30"/><circle cx="918.0" cy="684.6" r="3.30"/><circle cx="919.3" cy="683.7" r="3.30"/><circle cx="920.5" cy="682.8" r="3.30"/><circle cx="921.8" cy="681.9" r="3.30"/><circle cx="923.1" cy="681.0" r="3.30"/><circle cx="924.3" cy="680.2" r="3.30"/><circle cx="925.6" cy="679.5" r="3.30"/><circle cx="926.9" cy="678.7" r="3.30"/><circle cx="928.1" cy="678.1" r="3.30"/><circle cx="929.4" cy="677.4" r="3.30"/><circle cx="930.7" cy="676.8" r="3.30"/><circle cx="931.9" cy="676.2" r="3.30"/><circle cx="933.2" cy="675.7" r="3.30"/><circle cx="934.5" cy="675.2" r="3.30"/><circle cx="935.7" cy="674.7" r="3.30"/><circle cx="937.0" cy="674.3" r="3.30"/><circle cx="938.2" cy="673.9" r="3.30"/><circle cx="939.5" cy="673.6" r="3.30"/><circle cx="940.8" cy="673.3" r="3.30"/><circle cx="942.0" cy="673.1" r="3.30"/><circle cx="943.3" cy="672.8" r="3.30"/><circle cx="944.6" cy="672.7" r="3.30"/><circle cx="945.8" cy="672.5" r="3.30"/><circle cx="947.1" cy="672.4" r="3.30"/><circle cx="948.4" cy="672.4" r="3.30"/><circle cx="949.6" cy="672.3" r="3.30"/><circle cx="950.9" cy="672.4" r="3.30"/><circle cx="952.2" cy="672.4" r="3.30"/><circle cx="953.4" cy="672.5" r="3.30"/><circle cx="954.7" cy="672.7" r="3.30"/><circle cx="956.0" cy="672.8" r="3.30"/><circle cx="957.2" cy="673.1" r="3.30"/><circle cx="958.5" cy="673.3" r="3.30"/><circle cx="959.8" cy="673.6" r="3.30"/><circle cx="961.0" cy="673.9" r="3.30"/><circle cx="962.3" cy="674.3" r="3.30"/><circle cx="963.5" cy="674.7" r="3.30"/><circle cx="964.8" cy="675.2" r="3.30"/><circle cx="966.1" cy="675.7" r="3.30"/><circle cx="967.3" cy="676.2" r="3.30"/><circle cx="968.6" cy="676.8" r="3.30"/><circle cx="969.9" cy="677.4" r="3.30"/><circle cx="971.1" cy="678.1" r="3.30"/><circle cx="972.4" cy="678.7" r="3.30"/><circle cx="973.7" cy="679.5" r="3.30"/><circle cx="974.9" cy="680.2" r="3.30"/><circle cx="976.2" cy="681.0" r="3.30"/><circle cx="977.5" cy="681.9" r="3.30"/><circle cx="978.7" cy="682.8" r="3.30"/><circle cx="980.0" cy="683.7" r="3.30"/><circle cx="981.3" cy="684.6" r="3.30"/><circle cx="982.5" cy="685.6" r="3.30"/><circle cx="983.8" cy="686.7" r="3.30"/><circle cx="985.1" cy="687.7" r="3.30"/><circle cx="986.3" cy="688.8" r="3.30"/><circle cx="987.6" cy="690.0" r="3.30"/><circle cx="988.8" cy="691.2" r="3.30"/><circle cx="990.1" cy="692.4" r="3.30"/><circle cx="991.4" cy="693.6" r="3.30"/><circle cx="992.6" cy="694.9" r="3.30"/><circle cx="993.9" cy="696.2" r="3.30"/><circle cx="995.2" cy="697.6" r="3.30"/><circle cx="996.4" cy="699.0" r="3.30"/><circle cx="997.7" cy="700.4" r="3.30"/><circle cx="999.0" cy="701.9" r="3.30"/><circle cx="1000.2" cy="703.3" r="3.30"/><circle cx="1001.5" cy="704.9" r="3.30"/><circle cx="1006.0" cy="710.6" r="3.30"/><circle cx="1010.5" cy="716.7" r="3.30"/><circle cx="1015.0" cy="723.1" r="3.30"/><circle cx="1019.5" cy="730.0" r="3.30"/><circle cx="1024.0" cy="737.2" r="3.30"/><circle cx="1028.4" cy="744.8" r="3.30"/><circle cx="1032.9" cy="752.7" r="3.30"/><circle cx="1037.4" cy="760.9" r="3.30"/><circle cx="1041.9" cy="769.4" r="3.30"/><circle cx="1046.4" cy="778.1" r="3.30"/><circle cx="1050.9" cy="787.1" r="3.30"/><circle cx="1055.4" cy="796.3" r="3.30"/><circle cx="1059.9" cy="805.7" r="3.30"/><circle cx="1064.4" cy="815.2" r="3.30"/><circle cx="1068.9" cy="825.0" r="3.30"/><circle cx="1073.4" cy="834.8" r="3.30"/><circle cx="1077.8" cy="844.8" r="3.30"/><circle cx="1082.3" cy="854.8" r="3.30"/><circle cx="1086.8" cy="864.9" r="3.30"/><circle cx="1091.3" cy="875.0" r="3.30"/><circle cx="1095.8" cy="885.1" r="3.30"/><circle cx="1100.3" cy="895.2" r="3.30"/><circle cx="1104.8" cy="905.2" r="3.30"/><circle cx="1109.3" cy="915.2" r="3.30"/><circle cx="1113.8" cy="925.1" r="3.30"/><circle cx="1118.3" cy="934.8" r="3.30"/><circle cx="1122.8" cy="944.5" r="3.30"/><circle cx="1127.2" cy="953.9" r="3.30"/><circle cx="1131.7" cy="963.2" r="3.30"/><circle cx="1136.2" cy="972.2" r="3.30"/><circle cx="1140.7" cy="981.0" r="3.30"/><circle cx="1145.2" cy="989.6" r="3.30"/><circle cx="1149.7" cy="997.8" r="3.30"/><circle cx="1154.2" cy="1005.8" r="3.30"/><circle cx="1158.7" cy="1013.5" r="3.30"/><circle cx="1163.2" cy="1020.8" r="3.30"/><circle cx="1167.7" cy="1027.8" r="3.30"/><circle cx="1172.1" cy="1034.4" r="3.30"/><circle cx="1176.6" cy="1040.6" r="3.30"/><circle cx="1181.1" cy="1046.4" r="3.30"/><circle cx="1185.6" cy="1051.8" r="3.30"/><circle cx="1190.1" cy="1056.7" r="3.30"/><circle cx="1194.6" cy="1061.2" r="3.30"/><circle cx="1199.1" cy="1065.3" r="3.30"/><circle cx="1203.6" cy="1068.9" r="3.30"/><circle cx="1203.9" cy="1069.1" r="3.30"/><circle cx="1205.8" cy="1070.5" r="3.30"/><circle cx="1207.7" cy="1071.8" r="3.30"/><circle cx="1209.6" cy="1072.9" r="3.30"/><circle cx="1211.5" cy="1074.1" r="3.30"/><circle cx="1213.4" cy="1075.1" r="3.30"/><circle cx="1215.3" cy="1076.0" r="3.30"/><circle cx="1217.2" cy="1076.8" r="3.30"/><circle cx="1219.1" cy="1077.6" r="3.30"/><circle cx="1221.0" cy="1078.3" r="3.30"/><circle cx="1222.9" cy="1078.9" r="3.30"/><circle cx="1224.8" cy="1079.3" r="3.30"/><circle cx="1226.7" cy="1079.7" r="3.30"/><circle cx="1228.6" cy="1080.1" r="3.30"/><circle cx="1230.5" cy="1080.3" r="3.30"/><circle cx="1232.4" cy="1080.4" r="3.30"/><circle cx="1234.3" cy="1080.5" r="3.30"/><circle cx="1236.2" cy="1080.4" r="3.30"/><circle cx="1238.1" cy="1080.3" r="3.30"/><circle cx="1240.0" cy="1080.1" r="3.30"/><circle cx="1241.8" cy="1079.8" r="3.30"/><circle cx="1243.7" cy="1079.4" r="3.30"/><circle cx="1245.6" cy="1078.9" r="3.30"/><circle cx="1247.5" cy="1078.3" r="3.30"/><circle cx="1249.4" cy="1077.7" r="3.30"/><circle cx="1251.3" cy="1076.9" r="3.30"/><circle cx="1253.2" cy="1076.1" r="3.30"/><circle cx="1255.1" cy="1075.2" r="3.30"/><circle cx="1257.0" cy="1074.2" r="3.30"/><circle cx="1258.9" cy="1073.1" r="3.30"/><circle cx="1260.8" cy="1071.9" r="3.30"/><circle cx="1262.7" cy="1070.7" r="3.30"/><circle cx="1264.6" cy="1069.3" r="3.30"/><circle cx="1266.5" cy="1067.9" r="3.30"/><circle cx="1268.4" cy="1066.4" r="3.30"/><circle cx="1270.3" cy="1064.8" r="3.30"/><circle cx="1272.2" cy="1063.2" r="3.30"/><circle cx="1274.1" cy="1061.4" r="3.30"/><circle cx="1276.0" cy="1059.6" r="3.30"/><circle cx="1277.9" cy="1057.7" r="3.30"/><circle cx="1279.8" cy="1055.7" r="3.30"/><circle cx="1281.7" cy="1053.6" r="3.30"/><circle cx="1283.6" cy="1051.5" r="3.30"/><circle cx="1285.5" cy="1049.3" r="3.30"/><circle cx="1287.4" cy="1047.0" r="3.30"/><circle cx="1289.3" cy="1044.7" r="3.30"/><circle cx="1291.2" cy="1042.2" r="3.30"/><circle cx="1293.1" cy="1039.7" r="3.30"/><circle cx="1295.0" cy="1037.2" r="3.30"/><circle cx="1296.9" cy="1034.5" r="3.30"/><circle cx="1298.8" cy="1031.8" r="3.30"/><circle cx="1300.7" cy="1029.0" r="3.30"/><circle cx="1302.6" cy="1026.2" r="3.30"/><circle cx="1304.5" cy="1023.3" r="3.30"/><circle cx="1306.4" cy="1020.3" r="3.30"/><circle cx="1308.3" cy="1017.3" r="3.30"/><circle cx="1310.2" cy="1014.2" r="3.30"/><circle cx="1312.1" cy="1011.1" r="3.30"/><circle cx="1314.0" cy="1007.9" r="3.30"/><circle cx="1315.9" cy="1004.6" r="3.30"/><circle cx="1317.7" cy="1001.3" r="3.30"/><circle cx="1319.6" cy="997.9" r="3.30"/><circle cx="1321.5" cy="994.5" r="3.30"/><circle cx="1323.4" cy="991.0" r="3.30"/><circle cx="1324.1" cy="989.9" r="3.30"/><circle cx="1327.1" cy="984.3" r="3.30"/><circle cx="1330.1" cy="978.5" r="3.30"/><circle cx="1333.1" cy="972.7" r="3.30"/><circle cx="1336.1" cy="966.8" r="3.30"/><circle cx="1339.1" cy="960.7" r="3.30"/><circle cx="1342.1" cy="954.6" r="3.30"/><circle cx="1345.1" cy="948.4" r="3.30"/><circle cx="1348.1" cy="942.1" r="3.30"/><circle cx="1351.1" cy="935.8" r="3.30"/><circle cx="1354.1" cy="929.4" r="3.30"/><circle cx="1357.1" cy="922.9" r="3.30"/><circle cx="1360.1" cy="916.4" r="3.30"/><circle cx="1363.1" cy="909.8" r="3.30"/><circle cx="1366.1" cy="903.3" r="3.30"/><circle cx="1369.1" cy="896.6" r="3.30"/><circle cx="1372.1" cy="890.0" r="3.30"/><circle cx="1375.1" cy="883.4" r="3.30"/><circle cx="1378.2" cy="876.7" r="3.30"/><circle cx="1381.2" cy="870.1" r="3.30"/><circle cx="1384.2" cy="863.5" r="3.30"/><circle cx="1387.2" cy="856.9" r="3.30"/><circle cx="1390.2" cy="850.3" r="3.30"/><circle cx="1393.2" cy="843.8" r="3.30"/><circle cx="1396.2" cy="837.2" r="3.30"/><circle cx="1399.2" cy="830.8" r="3.30"/><circle cx="1402.2" cy="824.4" r="3.30"/><circle cx="1405.2" cy="818.0" r="3.30"/><circle cx="1408.2" cy="811.8" r="3.30"/><circle cx="1411.2" cy="805.6" r="3.30"/><circle cx="1414.2" cy="799.4" r="3.30"/><circle cx="1417.2" cy="793.4" r="3.30"/><circle cx="1420.2" cy="787.5" r="3.30"/><circle cx="1423.2" cy="781.7" r="3.30"/><circle cx="1426.2" cy="775.9" r="3.30"/><circle cx="1429.2" cy="770.3" r="3.30"/><circle cx="1432.2" cy="764.8" r="3.30"/><circle cx="1435.2" cy="759.5" r="3.30"/><circle cx="1438.2" cy="754.2" r="3.30"/><circle cx="1441.2" cy="749.2" r="3.30"/><circle cx="1444.2" cy="744.2" r="3.30"/><circle cx="1447.3" cy="739.4" r="3.30"/><circle cx="1450.3" cy="734.8" r="3.30"/><circle cx="1453.3" cy="730.3" r="3.30"/><circle cx="1456.3" cy="726.0" r="3.30"/><circle cx="1459.3" cy="721.8" r="3.30"/><circle cx="1462.3" cy="717.9" r="3.30"/><circle cx="1465.3" cy="714.1" r="3.30"/><circle cx="1468.3" cy="710.4" r="3.30"/><circle cx="1471.3" cy="707.0" r="3.30"/><circle cx="1474.3" cy="703.8" r="3.30"/><circle cx="1477.3" cy="700.7" r="3.30"/><circle cx="1480.3" cy="697.9" r="3.30"/><circle cx="1482.2" cy="696.2" r="3.30"/><circle cx="1483.8" cy="694.9" r="3.30"/><circle cx="1485.4" cy="693.6" r="3.30"/><circle cx="1486.9" cy="692.3" r="3.30"/><circle cx="1488.5" cy="691.2" r="3.30"/><circle cx="1490.1" cy="690.0" r="3.30"/><circle cx="1491.7" cy="689.0" r="3.30"/><circle cx="1493.3" cy="688.0" r="3.30"/><circle cx="1494.8" cy="687.0" r="3.30"/><circle cx="1496.4" cy="686.1" r="3.30"/><circle cx="1498.0" cy="685.3" r="3.30"/><circle cx="1499.6" cy="684.5" r="3.30"/><circle cx="1501.2" cy="683.8" r="3.30"/><circle cx="1502.8" cy="683.2" r="3.30"/><circle cx="1504.3" cy="682.6" r="3.30"/><circle cx="1505.9" cy="682.1" r="3.30"/><circle cx="1507.5" cy="681.6" r="3.30"/><circle cx="1509.1" cy="681.2" r="3.30"/><circle cx="1510.7" cy="680.8" r="3.30"/><circle cx="1512.2" cy="680.6" r="3.30"/><circle cx="1513.8" cy="680.3" r="3.30"/><circle cx="1515.4" cy="680.2" r="3.30"/><circle cx="1517.0" cy="680.1" r="3.30"/><circle cx="1518.6" cy="680.0" r="3.30"/><circle cx="1520.2" cy="680.0" r="3.30"/><circle cx="1521.7" cy="680.1" r="3.30"/><circle cx="1523.3" cy="680.3" r="3.30"/><circle cx="1524.9" cy="680.5" r="3.30"/><circle cx="1526.5" cy="680.7" r="3.30"/><circle cx="1528.1" cy="681.0" r="3.30"/><circle cx="1529.6" cy="681.4" r="3.30"/><circle cx="1531.2" cy="681.9" r="3.30"/><circle cx="1532.8" cy="682.4" r="3.30"/><circle cx="1534.4" cy="682.9" r="3.30"/><circle cx="1536.0" cy="683.6" r="3.30"/><circle cx="1537.5" cy="684.3" r="3.30"/><circle cx="1539.1" cy="685.0" r="3.30"/><circle cx="1540.7" cy="685.8" r="3.30"/><circle cx="1542.3" cy="686.7" r="3.30"/><circle cx="1543.9" cy="687.6" r="3.30"/><circle cx="1545.5" cy="688.6" r="3.30"/><circle cx="1547.0" cy="689.6" r="3.30"/><circle cx="1548.6" cy="690.7" r="3.30"/><circle cx="1550.2" cy="691.9" r="3.30"/><circle cx="1551.8" cy="693.1" r="3.30"/><circle cx="1553.4" cy="694.3" r="3.30"/><circle cx="1554.9" cy="695.7" r="3.30"/><circle cx="1556.5" cy="697.0" r="3.30"/><circle cx="1558.1" cy="698.5" r="3.30"/><circle cx="1559.7" cy="700.0" r="3.30"/><circle cx="1561.3" cy="701.5" r="3.30"/><circle cx="1562.8" cy="703.1" r="3.30"/><circle cx="1564.4" cy="704.8" r="3.30"/><circle cx="1566.0" cy="706.5" r="3.30"/><circle cx="1567.6" cy="708.3" r="3.30"/><circle cx="1569.2" cy="710.1" r="3.30"/><circle cx="1570.8" cy="711.9" r="3.30"/><circle cx="1572.3" cy="713.9" r="3.30"/><circle cx="1573.9" cy="715.8" r="3.30"/><circle cx="1575.5" cy="717.9" r="3.30"/><circle cx="1577.1" cy="719.9" r="3.30"/><circle cx="1578.7" cy="722.0" r="3.30"/><circle cx="1580.2" cy="724.2" r="3.30"/><circle cx="1581.8" cy="726.4" r="3.30"/><circle cx="1583.4" cy="728.7" r="3.30"/><circle cx="1585.0" cy="731.0" r="3.30"/><circle cx="1586.6" cy="733.3" r="3.30"/><circle cx="1588.1" cy="735.7" r="3.30"/><circle cx="1589.7" cy="738.2" r="3.30"/><circle cx="1591.3" cy="740.7" r="3.30"/><circle cx="1592.9" cy="743.2" r="3.30"/><circle cx="1597.0" cy="749.9" r="3.30"/><circle cx="1601.1" cy="757.0" r="3.30"/><circle cx="1605.2" cy="764.3" r="3.30"/><circle cx="1609.3" cy="771.8" r="3.30"/><circle cx="1613.4" cy="779.5" r="3.30"/><circle cx="1617.6" cy="787.5" r="3.30"/><circle cx="1621.7" cy="795.6" r="3.30"/><circle cx="1625.8" cy="803.9" r="3.30"/><circle cx="1629.9" cy="812.4" r="3.30"/><circle cx="1634.0" cy="821.0" r="3.30"/><circle cx="1638.1" cy="829.8" r="3.30"/><circle cx="1642.2" cy="838.6" r="3.30"/><circle cx="1646.3" cy="847.5" r="3.30"/><circle cx="1650.4" cy="856.5" r="3.30"/><circle cx="1654.6" cy="865.6" r="3.30"/><circle cx="1658.7" cy="874.7" r="3.30"/><circle cx="1662.8" cy="883.7" r="3.30"/><circle cx="1666.9" cy="892.8" r="3.30"/><circle cx="1671.0" cy="901.9" r="3.30"/><circle cx="1675.1" cy="910.9" r="3.30"/><circle cx="1679.2" cy="919.8" r="3.30"/><circle cx="1683.3" cy="928.7" r="3.30"/><circle cx="1687.4" cy="937.4" r="3.30"/><circle cx="1691.6" cy="946.1" r="3.30"/><circle cx="1695.7" cy="954.6" r="3.30"/><circle cx="1699.8" cy="963.0" r="3.30"/><circle cx="1703.9" cy="971.1" r="3.30"/><circle cx="1708.0" cy="979.1" r="3.30"/><circle cx="1712.1" cy="986.9" r="3.30"/><circle cx="1716.2" cy="994.5" r="3.30"/><circle cx="1720.3" cy="1001.9" r="3.30"/><circle cx="1724.4" cy="1008.9" r="3.30"/><circle cx="1728.6" cy="1015.8" r="3.30"/><circle cx="1732.7" cy="1022.3" r="3.30"/><circle cx="1736.8" cy="1028.6" r="3.30"/><circle cx="1740.9" cy="1034.5" r="3.30"/><circle cx="1745.0" cy="1040.1" r="3.30"/><circle cx="1749.1" cy="1045.4" r="3.30"/><circle cx="1753.2" cy="1050.4" r="3.30"/><circle cx="1757.3" cy="1055.0" r="3.30"/><circle cx="1761.4" cy="1059.3" r="3.30"/><circle cx="1765.6" cy="1063.2" r="3.30"/><circle cx="1766.8" cy="1064.3" r="3.30"/><circle cx="1768.7" cy="1065.9" r="3.30"/><circle cx="1770.6" cy="1067.4" r="3.30"/><circle cx="1772.5" cy="1068.9" r="3.30"/><circle cx="1774.4" cy="1070.2" r="3.30"/><circle cx="1776.3" cy="1071.5" r="3.30"/><circle cx="1778.2" cy="1072.7" r="3.30"/><circle cx="1780.1" cy="1073.8" r="3.30"/><circle cx="1782.0" cy="1074.8" r="3.30"/><circle cx="1783.9" cy="1075.8" r="3.30"/><circle cx="1785.8" cy="1076.7" r="3.30"/><circle cx="1787.7" cy="1077.4" r="3.30"/><circle cx="1789.6" cy="1078.1" r="3.30"/><circle cx="1791.5" cy="1078.7" r="3.30"/><circle cx="1793.4" cy="1079.2" r="3.30"/><circle cx="1795.3" cy="1079.6" r="3.30"/><circle cx="1797.2" cy="1080.0" r="3.30"/><circle cx="1799.1" cy="1080.2" r="3.30"/><circle cx="1801.0" cy="1080.4" r="3.30"/><circle cx="1802.9" cy="1080.5" r="3.30"/><circle cx="1804.8" cy="1080.4" r="3.30"/><circle cx="1806.7" cy="1080.3" r="3.30"/><circle cx="1808.6" cy="1080.1" r="3.30"/><circle cx="1810.5" cy="1079.9" r="3.30"/><circle cx="1812.4" cy="1079.5" r="3.30"/><circle cx="1814.3" cy="1079.0" r="3.30"/><circle cx="1816.2" cy="1078.5" r="3.30"/><circle cx="1818.1" cy="1077.8" r="3.30"/><circle cx="1820.0" cy="1077.1" r="3.30"/><circle cx="1821.9" cy="1076.3" r="3.30"/><circle cx="1823.8" cy="1075.4" r="3.30"/><circle cx="1825.6" cy="1074.4" r="3.30"/><circle cx="1827.5" cy="1073.3" r="3.30"/><circle cx="1829.4" cy="1072.2" r="3.30"/><circle cx="1831.3" cy="1070.9" r="3.30"/><circle cx="1833.2" cy="1069.6" r="3.30"/><circle cx="1835.1" cy="1068.2" r="3.30"/><circle cx="1837.0" cy="1066.7" r="3.30"/><circle cx="1838.9" cy="1065.1" r="3.30"/><circle cx="1840.8" cy="1063.4" r="3.30"/><circle cx="1842.7" cy="1061.7" r="3.30"/><circle cx="1844.6" cy="1059.8" r="3.30"/><circle cx="1846.5" cy="1057.9" r="3.30"/><circle cx="1848.4" cy="1055.9" r="3.30"/><circle cx="1850.3" cy="1053.9" r="3.30"/><circle cx="1852.2" cy="1051.7" r="3.30"/><circle cx="1854.1" cy="1049.5" r="3.30"/><circle cx="1856.0" cy="1047.2" r="3.30"/><circle cx="1857.9" cy="1044.8" r="3.30"/><circle cx="1859.8" cy="1042.4" r="3.30"/><circle cx="1861.7" cy="1039.8" r="3.30"/><circle cx="1863.6" cy="1037.2" r="3.30"/><circle cx="1865.5" cy="1034.6" r="3.30"/><circle cx="1867.4" cy="1031.8" r="3.30"/><circle cx="1869.3" cy="1029.0" r="3.30"/><circle cx="1871.2" cy="1026.2" r="3.30"/><circle cx="1873.1" cy="1023.2" r="3.30"/><circle cx="1875.0" cy="1020.2" r="3.30"/><circle cx="1876.9" cy="1017.2" r="3.30"/><circle cx="1878.8" cy="1014.1" r="3.30"/><circle cx="1880.7" cy="1010.9" r="3.30"/><circle cx="1882.6" cy="1007.6" r="3.30"/><circle cx="1884.5" cy="1004.3" r="3.30"/><circle cx="1886.4" cy="1001.0" r="3.30"/><circle cx="1888.3" cy="997.6" r="3.30"/><circle cx="1890.2" cy="994.1" r="3.30"/><circle cx="1892.1" cy="990.6" r="3.30"/><circle cx="1894.0" cy="987.0" r="3.30"/><circle cx="1895.9" cy="983.4" r="3.30"/><circle cx="1897.8" cy="979.8" r="3.30"/><circle cx="1899.7" cy="976.1" r="3.30"/><circle cx="1901.5" cy="972.3" r="3.30"/><circle cx="1903.4" cy="968.5" r="3.30"/><circle cx="1905.3" cy="964.7" r="3.30"/><circle cx="1907.2" cy="960.8" r="3.30"/><circle cx="1909.1" cy="956.9" r="3.30"/><circle cx="1911.0" cy="953.0" r="3.30"/><circle cx="1912.9" cy="949.0" r="3.30"/><circle cx="1914.8" cy="945.0" r="3.30"/><circle cx="1916.7" cy="940.9" r="3.30"/><circle cx="1918.6" cy="936.9" r="3.30"/><circle cx="1920.5" cy="932.8" r="3.30"/><circle cx="1922.4" cy="928.7" r="3.30"/><circle cx="1924.3" cy="924.5" r="3.30"/><circle cx="1926.2" cy="920.4" r="3.30"/><circle cx="1928.1" cy="916.2" r="3.30"/><circle cx="1930.0" cy="912.0" r="3.30"/><circle cx="1931.9" cy="907.8" r="3.30"/><circle cx="1933.8" cy="903.6" r="3.30"/><circle cx="1935.7" cy="899.3" r="3.30"/><circle cx="1937.6" cy="895.1" r="3.30"/><circle cx="1939.5" cy="890.8" r="3.30"/><circle cx="1941.4" cy="886.6" r="3.30"/><circle cx="1943.3" cy="882.3" r="3.30"/><circle cx="1945.2" cy="878.0" r="3.30"/><circle cx="1947.1" cy="873.7" r="3.30"/><circle cx="1949.0" cy="869.5" r="3.30"/><circle cx="1950.9" cy="865.2" r="3.30"/><circle cx="1952.8" cy="861.0" r="3.30"/><circle cx="1954.7" cy="856.7" r="3.30"/><circle cx="1956.6" cy="852.5" r="3.30"/><circle cx="1958.5" cy="848.2" r="3.30"/><circle cx="1960.4" cy="844.0" r="3.30"/><circle cx="1962.3" cy="839.8" r="3.30"/><circle cx="1964.2" cy="835.6" r="3.30"/><circle cx="1966.1" cy="831.4" r="3.30"/><circle cx="1968.0" cy="827.3" r="3.30"/><circle cx="1969.9" cy="823.1" r="3.30"/><circle cx="1971.8" cy="819.0" r="3.30"/><circle cx="1973.7" cy="814.9" r="3.30"/><circle cx="1975.6" cy="810.9" r="3.30"/><circle cx="1977.4" cy="806.9" r="3.30"/><circle cx="1979.3" cy="802.9" r="3.30"/><circle cx="1981.2" cy="798.9" r="3.30"/><circle cx="1983.1" cy="795.0" r="3.30"/><circle cx="1985.0" cy="791.1" r="3.30"/><circle cx="1986.9" cy="787.2" r="3.30"/><circle cx="1988.2" cy="784.7" r="3.30"/></g></svg>
<div class="t" style="left:760px;top:1092.6px;width:80px;text-align:right;font-size:18.5px;transform:scaleY(1.05)">0</div>
<div class="t" style="left:760px;top:938.9px;width:80px;text-align:right;font-size:18.5px;transform:scaleY(1.05)">20</div>
<div class="t" style="left:760px;top:785.2px;width:80px;text-align:right;font-size:18.5px;transform:scaleY(1.05)">40</div>
<div class="t" style="left:760px;top:631.4px;width:80px;text-align:right;font-size:18.5px;transform:scaleY(1.05)">60</div>
<div class="t" style="left:760px;top:477.7px;width:80px;text-align:right;font-size:18.5px;transform:scaleY(1.05)">80</div>
<div class="t" style="left:760px;top:324.0px;width:80px;text-align:right;font-size:18.5px;transform:scaleY(1.05)">100</div>
<div class="t" style="left:809.7px;top:1113px;width:80px;text-align:center;font-size:18.5px;transform:scaleY(1.05)">0</div>
<div class="t" style="left:1126.0px;top:1113px;width:80px;text-align:center;font-size:18.5px;transform:scaleY(1.05)">100</div>
<div class="t" style="left:1442.2px;top:1113px;width:80px;text-align:center;font-size:18.5px;transform:scaleY(1.05)">200</div>
<div class="t" style="left:1758.5px;top:1113px;width:80px;text-align:center;font-size:18.5px;transform:scaleY(1.05)">300</div>
<div class="t" style="left:1319px;top:1134px;width:200px;text-align:center;font-size:18.7px;color:#000099">Angle (°)</div>
<div class="t" style="left:709px;top:702.5px;width:150px;text-align:center;font-size:18.7px;transform:rotate(-90deg)">Illumination (rel)</div>
<div class="a" style="left:1357.5px;top:495.5px;width:69px;height:31.5px;background:#fff;border:1px solid #333;box-sizing:border-box"></div>
<div class="t" style="left:1357.5px;top:501.5px;width:69px;text-align:center;font-size:19.8px">Water</div>
<div class="a" style="left:1391px;top:746px;width:89px;height:31px;background:#fff;border:1px solid #333;box-sizing:border-box"></div>
<div class="t" style="left:1391px;top:751.5px;width:89px;text-align:center;font-size:19.8px">Sucrose</div>
</body></html>
